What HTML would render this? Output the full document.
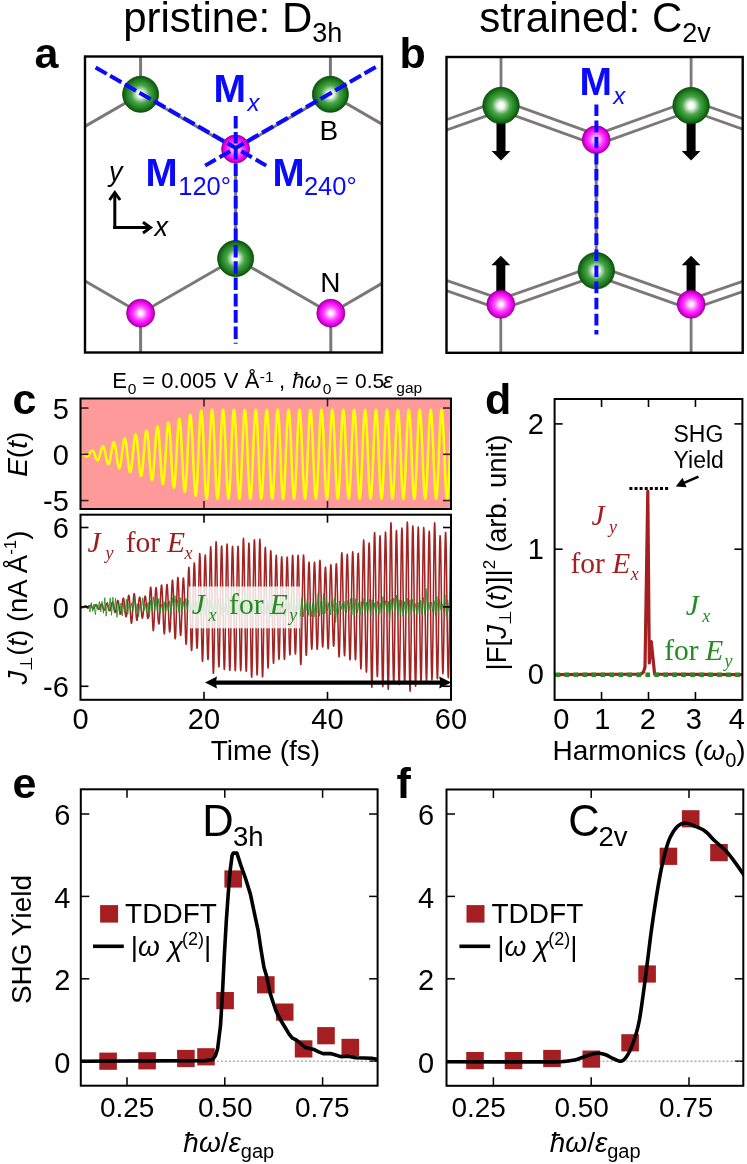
<!DOCTYPE html><html><head><meta charset="utf-8"><style>html,body{margin:0;padding:0;background:#fff;}svg{display:block;will-change:transform;}</style></head><body><svg width="747" height="1164" viewBox="0 0 747 1164">
<defs>
<radialGradient id="gG" cx="0.5" cy="0.5" r="0.5" fx="0.5" fy="0.5">
<stop offset="0" stop-color="#ffffff"/><stop offset="0.18" stop-color="#f0f8f0"/><stop offset="0.5" stop-color="#4aa64a"/><stop offset="0.8" stop-color="#1e7e1e"/><stop offset="1" stop-color="#0b520b"/></radialGradient>
<radialGradient id="gM" cx="0.5" cy="0.5" r="0.5" fx="0.5" fy="0.5">
<stop offset="0" stop-color="#ffffff"/><stop offset="0.12" stop-color="#fff0ff"/><stop offset="0.5" stop-color="#ff44ff"/><stop offset="0.8" stop-color="#f000f0"/><stop offset="1" stop-color="#a800a8"/></radialGradient>
</defs>
<rect width="747" height="1164" fill="#fff"/>
<text x="123.2" y="32.1" font-size="42" font-family="Liberation Sans, sans-serif">pristine: D<tspan font-size="27" dy="10">3h</tspan></text>
<text x="479.2" y="32.3" font-size="42" font-family="Liberation Sans, sans-serif">strained: C<tspan font-size="27" dy="10">2v</tspan></text>
<text x="34.6" y="67.8" font-size="43" fill="#000" font-family="Liberation Sans, sans-serif" font-weight="bold" font-style="normal" text-anchor="start" >a</text>
<text x="399.5" y="67.8" font-size="43" fill="#000" font-family="Liberation Sans, sans-serif" font-weight="bold" font-style="normal" text-anchor="start" >b</text>
<text x="12.5" y="414.2" font-size="43" fill="#000" font-family="Liberation Sans, sans-serif" font-weight="bold" font-style="normal" text-anchor="start" >c</text>
<text x="485" y="414.2" font-size="43" fill="#000" font-family="Liberation Sans, sans-serif" font-weight="bold" font-style="normal" text-anchor="start" >d</text>
<text x="12.4" y="798.3" font-size="43" fill="#000" font-family="Liberation Sans, sans-serif" font-weight="bold" font-style="normal" text-anchor="start" >e</text>
<text x="396.5" y="797.6" font-size="43" fill="#000" font-family="Liberation Sans, sans-serif" font-weight="bold" font-style="normal" text-anchor="start" >f</text>
<line x1="140.6" y1="56.5" x2="140.6" y2="94.3" stroke="#7d7878" stroke-width="3" />
<line x1="330.4" y1="56.5" x2="330.4" y2="94.3" stroke="#7d7878" stroke-width="3" />
<line x1="140.6" y1="94.3" x2="235.6" y2="149" stroke="#7d7878" stroke-width="3" />
<line x1="330.4" y1="94.3" x2="235.6" y2="149" stroke="#7d7878" stroke-width="3" />
<line x1="140.6" y1="94.3" x2="85" y2="126.4" stroke="#7d7878" stroke-width="3" />
<line x1="330.4" y1="94.3" x2="382" y2="124.1" stroke="#7d7878" stroke-width="3" />
<line x1="235.6" y1="149" x2="235.6" y2="258.5" stroke="#7d7878" stroke-width="3" />
<line x1="235.6" y1="258.5" x2="140.6" y2="313.2" stroke="#7d7878" stroke-width="3" />
<line x1="235.6" y1="258.5" x2="330.8" y2="313.2" stroke="#7d7878" stroke-width="3" />
<line x1="140.6" y1="313.2" x2="85" y2="281" stroke="#7d7878" stroke-width="3" />
<line x1="330.8" y1="313.2" x2="382" y2="283.4" stroke="#7d7878" stroke-width="3" />
<line x1="140.6" y1="313.2" x2="140.6" y2="352.5" stroke="#7d7878" stroke-width="3" />
<line x1="330.8" y1="313.2" x2="330.8" y2="352.5" stroke="#7d7878" stroke-width="3" />
<circle cx="140.6" cy="94.3" r="18" fill="url(#gG)" stroke="#0b4a0b" stroke-width="0.8"/>
<circle cx="330.4" cy="94.3" r="18" fill="url(#gG)" stroke="#0b4a0b" stroke-width="0.8"/>
<circle cx="235.6" cy="258.5" r="18" fill="url(#gG)" stroke="#0b4a0b" stroke-width="0.8"/>
<circle cx="235.6" cy="149" r="14" fill="url(#gM)" stroke="#8a008a" stroke-width="0.8"/>
<circle cx="140.6" cy="313.2" r="14" fill="url(#gM)" stroke="#8a008a" stroke-width="0.8"/>
<circle cx="330.8" cy="313.2" r="14" fill="url(#gM)" stroke="#8a008a" stroke-width="0.8"/>
<rect x="85" y="56.5" width="297" height="296.0" fill="none" stroke="#000" stroke-width="2.4"/>
<line x1="235.7" y1="147.9" x2="235.7" y2="343.7" stroke="#0a0aff" stroke-width="4" stroke-dasharray="11.6 3.9 12.6 3.7 12.6 3.7 12.6 3.7 12.6 3.7 12.6 3.7 12.6 3.7 12.6 3.7 12.6 3.7 12.6 3.7 12.6 3.7 12.6 3.7 12.6 3.7 12.6 3.7 12.6 3.7"/>
<line x1="235.7" y1="147.9" x2="235.7" y2="115.6" stroke="#0a0aff" stroke-width="4" stroke-dasharray="0 4.4 11.4 3.6 12.6 3.7 12.6 3.7 12.6 3.7 12.6 3.7 12.6 3.7 12.6 3.7 12.6 3.7 12.6 3.7 12.6 3.7 12.6 3.7 12.6 3.7 12.6 3.7 12.6 3.7 12.6 3.7"/>
<line x1="235.7" y1="147.9" x2="95.6" y2="67.5" stroke="#0a0aff" stroke-width="4" stroke-dasharray="9.5 4.0 13.0 3.9 13.0 3.9 13.0 3.9 13.0 3.9 13.0 3.9 13.0 3.9 13.0 3.9 13.0 3.9 13.0 3.9 13.0 3.9 13.0 3.9 13.0 3.9 13.0 3.9 13.0 3.9"/>
<line x1="235.7" y1="147.9" x2="375.8" y2="67" stroke="#0a0aff" stroke-width="4" stroke-dasharray="9.5 4.0 13.0 3.9 13.0 3.9 13.0 3.9 13.0 3.9 13.0 3.9 13.0 3.9 13.0 3.9 13.0 3.9 13.0 3.9 13.0 3.9 13.0 3.9 13.0 3.9 13.0 3.9 13.0 3.9"/>
<line x1="235.7" y1="147.9" x2="266.9" y2="166" stroke="#0a0aff" stroke-width="4" stroke-dasharray="0 6.5 12.2 4.4 12.2 10"/>
<line x1="235.7" y1="147.9" x2="204.5" y2="166" stroke="#0a0aff" stroke-width="4" stroke-dasharray="0 6.5 12.2 4.4 12.2 10"/>
<text x="213.59" y="101.6" font-size="39" fill="#0a0aff" font-family="Liberation Sans, sans-serif" font-weight="bold" font-style="normal">M</text>
<text x="247.56" y="110.9" font-size="24" fill="#0a0aff" font-family="Liberation Sans, sans-serif" font-weight="normal" font-style="italic">x</text>
<text x="145.42" y="186.1" font-size="38.5" fill="#0a0aff" font-family="Liberation Sans, sans-serif" font-weight="bold" font-style="normal">M</text>
<text x="178.26" y="194.8" font-size="25.5" fill="#0a0aff" font-family="Liberation Sans, sans-serif" font-weight="normal" font-style="normal">120°</text>
<text x="272.42" y="186.1" font-size="38.5" fill="#0a0aff" font-family="Liberation Sans, sans-serif" font-weight="bold" font-style="normal">M</text>
<text x="303.92" y="194.8" font-size="25.5" fill="#0a0aff" font-family="Liberation Sans, sans-serif" font-weight="normal" font-style="normal">240°</text>
<text x="319.5" y="140.4" font-size="28" fill="#000" font-family="Liberation Sans, sans-serif" font-weight="normal" font-style="normal">B</text>
<text x="320.3" y="292.4" font-size="28" fill="#000" font-family="Liberation Sans, sans-serif" font-weight="normal" font-style="normal">N</text>
<text x="109" y="181.2" font-size="27" fill="#000" font-family="Liberation Sans, sans-serif" font-weight="normal" font-style="italic" text-anchor="start" >y</text>
<text x="154.5" y="235.7" font-size="27" fill="#000" font-family="Liberation Sans, sans-serif" font-weight="normal" font-style="italic" text-anchor="start" >x</text>
<path d="M114.8,229 L114.8,194" stroke="#000" stroke-width="3" fill="none"/>
<path d="M109.5,200 L114.8,192.5 L120.1,200" stroke="#000" stroke-width="3" fill="none" stroke-linejoin="miter"/>
<path d="M113.3,227.6 L149,227.6" stroke="#000" stroke-width="3" fill="none"/>
<path d="M143,222.3 L150.5,227.6 L143,232.9" stroke="#000" stroke-width="3" fill="none"/>
<clipPath id="cb"><rect x="446.5" y="57" width="296.20000000000005" height="295.8"/></clipPath>
<g clip-path="url(#cb)">
<line x1="499.34" y1="110.11" x2="594.54" y2="144.31" stroke="#7d7878" stroke-width="2.8" />
<line x1="502.66" y1="100.89" x2="597.86" y2="135.09" stroke="#7d7878" stroke-width="2.8" />
<line x1="597.86" y1="144.31" x2="692.76" y2="110.21" stroke="#7d7878" stroke-width="2.8" />
<line x1="594.54" y1="135.09" x2="689.44" y2="100.99" stroke="#7d7878" stroke-width="2.8" />
<line x1="499.36" y1="100.88" x2="434.86" y2="123.83" stroke="#7d7878" stroke-width="2.8" />
<line x1="502.64" y1="110.12" x2="438.14" y2="133.06" stroke="#7d7878" stroke-width="2.8" />
<line x1="689.46" y1="110.22" x2="751.06" y2="132.13" stroke="#7d7878" stroke-width="2.8" />
<line x1="692.74" y1="100.98" x2="754.34" y2="122.89" stroke="#7d7878" stroke-width="2.8" />
<line x1="502.43" y1="308.92" x2="597.93" y2="275.32" stroke="#7d7878" stroke-width="2.8" />
<line x1="499.17" y1="299.68" x2="594.67" y2="266.08" stroke="#7d7878" stroke-width="2.8" />
<line x1="594.66" y1="275.32" x2="689.46" y2="308.92" stroke="#7d7878" stroke-width="2.8" />
<line x1="597.94" y1="266.08" x2="692.74" y2="299.68" stroke="#7d7878" stroke-width="2.8" />
<line x1="502.4" y1="299.67" x2="438.1" y2="277.48" stroke="#7d7878" stroke-width="2.8" />
<line x1="499.2" y1="308.93" x2="434.9" y2="286.75" stroke="#7d7878" stroke-width="2.8" />
<line x1="692.7" y1="308.93" x2="754.3" y2="287.68" stroke="#7d7878" stroke-width="2.8" />
<line x1="689.5" y1="299.67" x2="751.1" y2="278.42" stroke="#7d7878" stroke-width="2.8" />
</g>
<line x1="501" y1="57" x2="501" y2="105.5" stroke="#7d7878" stroke-width="2.8" />
<line x1="691.1" y1="57" x2="691.1" y2="105.6" stroke="#7d7878" stroke-width="2.8" />
<line x1="596.2" y1="139.7" x2="596.3" y2="270.7" stroke="#7d7878" stroke-width="2.8" />
<line x1="500.8" y1="304.3" x2="500.8" y2="352.8" stroke="#7d7878" stroke-width="2.8" />
<line x1="691.1" y1="304.3" x2="691.1" y2="352.8" stroke="#7d7878" stroke-width="2.8" />
<path d="M496.5,118 L505.5,118 L505.5,151 L510.4,151 L501,160.5 L491.6,151 L496.5,151 Z" fill="#000"/>
<path d="M686.6,118 L695.6,118 L695.6,151 L700.5,151 L691.1,160.5 L681.7,151 L686.6,151 Z" fill="#000"/>
<path d="M496.3,295 L505.3,295 L505.3,265.3 L510.2,265.3 L500.8,255.8 L491.4,265.3 L496.3,265.3 Z" fill="#000"/>
<path d="M686.6,295 L695.6,295 L695.6,265.3 L700.5,265.3 L691.1,255.8 L681.7,265.3 L686.6,265.3 Z" fill="#000"/>
<circle cx="501" cy="105.5" r="18.2" fill="url(#gG)" stroke="#0b4a0b" stroke-width="0.8"/>
<circle cx="691.1" cy="105.6" r="18.2" fill="url(#gG)" stroke="#0b4a0b" stroke-width="0.8"/>
<circle cx="596.3" cy="270.7" r="18.2" fill="url(#gG)" stroke="#0b4a0b" stroke-width="0.8"/>
<circle cx="596.2" cy="139.7" r="13.9" fill="url(#gM)" stroke="#8a008a" stroke-width="0.8"/>
<circle cx="500.8" cy="304.3" r="13.9" fill="url(#gM)" stroke="#8a008a" stroke-width="0.8"/>
<circle cx="691.1" cy="304.3" r="13.9" fill="url(#gM)" stroke="#8a008a" stroke-width="0.8"/>
<rect x="446.5" y="57" width="296.2" height="295.8" fill="none" stroke="#000" stroke-width="2.4"/>
<line x1="596.4" y1="104.5" x2="596.4" y2="334.5" stroke="#0a0aff" stroke-width="4" stroke-dasharray="11.6 4.5"/>
<text x="579.39" y="94.7" font-size="39" fill="#0a0aff" font-family="Liberation Sans, sans-serif" font-weight="bold" font-style="normal">M</text>
<text x="613.36" y="103.9" font-size="24" fill="#0a0aff" font-family="Liberation Sans, sans-serif" font-weight="normal" font-style="italic">x</text>
<text x="112.2" y="388.2" font-size="22" fill="#000" font-family="Liberation Sans, sans-serif" font-weight="normal" font-style="normal">E</text>
<text x="127.79" y="393.7" font-size="15.5" fill="#000" font-family="Liberation Sans, sans-serif" font-weight="normal" font-style="normal">0</text>
<text x="142.33" y="388.2" font-size="22" fill="#000" font-family="Liberation Sans, sans-serif" font-weight="normal" font-style="normal">=</text>
<text x="161.34" y="388.2" font-size="22" fill="#000" font-family="Liberation Sans, sans-serif" font-weight="normal" font-style="normal">0.005</text>
<text x="223.7" y="388.2" font-size="22" fill="#000" font-family="Liberation Sans, sans-serif" font-weight="normal" font-style="normal">V</text>
<text x="244.76" y="388.2" font-size="22" fill="#000" font-family="Liberation Sans, sans-serif" font-weight="normal" font-style="normal">Å</text>
<text x="259.81" y="382.1" font-size="15.5" fill="#000" font-family="Liberation Sans, sans-serif" font-weight="normal" font-style="normal">-1</text>
<text x="279.02" y="388.2" font-size="22" fill="#000" font-family="Liberation Sans, sans-serif" font-weight="normal" font-style="normal">,</text>
<text x="292.13" y="388.2" font-size="22" fill="#000" font-family="Liberation Sans, sans-serif" font-weight="normal" font-style="italic">ħω</text>
<text x="322.79" y="393.9" font-size="15.5" fill="#000" font-family="Liberation Sans, sans-serif" font-weight="normal" font-style="normal">0</text>
<text x="335.43" y="388.2" font-size="22" fill="#000" font-family="Liberation Sans, sans-serif" font-weight="normal" font-style="normal">=</text>
<text x="354.98" y="388.2" font-size="21" fill="#000" font-family="Liberation Sans, sans-serif" font-weight="normal" font-style="normal">0.5</text>
<text x="382.82" y="388.2" font-size="23" fill="#000" font-family="Liberation Sans, sans-serif" font-weight="normal" font-style="italic">ε</text>
<text x="396.35" y="393.3" font-size="15.5" fill="#000" font-family="Liberation Sans, sans-serif" font-weight="normal" font-style="normal">gap</text>
<rect x="80.5" y="398.5" width="370.5" height="110.5" fill="#ff9a9a"/>
<clipPath id="ct"><rect x="80.5" y="398.5" width="370.5" height="110.5"/></clipPath>
<g clip-path="url(#ct)">
<path d="M80.5,454.3 L80.75,454.21 L81,454.12 L81.25,454.03 L81.5,453.96 L81.75,453.9 L82,453.86 L82.25,453.84 L82.5,453.85 L82.75,453.89 L83,453.96 L83.25,454.06 L83.5,454.19 L83.75,454.35 L84,454.54 L84.25,454.74 L84.5,454.96 L84.75,455.19 L85,455.42 L85.25,455.65 L85.5,455.86 L85.75,456.06 L86,456.23 L86.25,456.36 L86.5,456.46 L86.75,456.51 L87,456.51 L87.25,456.45 L87.5,456.34 L87.75,456.17 L88,455.94 L88.25,455.66 L88.5,455.33 L88.75,454.96 L89,454.54 L89.25,454.1 L89.5,453.63 L89.75,453.15 L90,452.67 L90.25,452.2 L90.5,451.76 L90.75,451.35 L91,450.98 L91.25,450.67 L91.5,450.43 L91.75,450.26 L92,450.17 L92.25,450.17 L92.5,450.26 L92.75,450.44 L93,450.71 L93.25,451.08 L93.5,451.53 L93.75,452.05 L94,452.65 L94.25,453.3 L94.5,454 L94.75,454.73 L95,455.48 L95.25,456.23 L95.5,456.97 L95.75,457.67 L96,458.32 L96.25,458.91 L96.5,459.41 L96.75,459.83 L97,460.14 L97.25,460.33 L97.5,460.4 L97.75,460.34 L98,460.15 L98.25,459.83 L98.5,459.38 L98.75,458.82 L99,458.14 L99.25,457.36 L99.5,456.49 L99.75,455.56 L100,454.57 L100.25,453.55 L100.5,452.53 L100.75,451.51 L101,450.53 L101.25,449.6 L101.5,448.75 L101.75,448 L102,447.36 L102.25,446.85 L102.5,446.49 L102.75,446.29 L103,446.25 L103.25,446.38 L103.5,446.67 L103.75,447.14 L104,447.77 L104.25,448.55 L104.5,449.46 L104.75,450.5 L105,451.64 L105.25,452.86 L105.5,454.13 L105.75,455.43 L106,456.74 L106.25,458.02 L106.5,459.25 L106.75,460.39 L107,461.43 L107.25,462.34 L107.5,463.1 L107.75,463.69 L108,464.09 L108.25,464.3 L108.5,464.3 L108.75,464.09 L109,463.67 L109.25,463.04 L109.5,462.22 L109.75,461.23 L110,460.07 L110.25,458.77 L110.5,457.35 L110.75,455.85 L111,454.28 L111.25,452.7 L111.5,451.12 L111.75,449.58 L112,448.12 L112.25,446.76 L112.5,445.53 L112.75,444.48 L113,443.61 L113.25,442.95 L113.5,442.51 L113.75,442.32 L114,442.37 L114.25,442.68 L114.5,443.23 L114.75,444.02 L115,445.04 L115.25,446.26 L115.5,447.67 L115.75,449.24 L116,450.94 L116.25,452.73 L116.5,454.58 L116.75,456.45 L117,458.3 L117.25,460.09 L117.5,461.79 L117.75,463.35 L118,464.75 L118.25,465.94 L118.5,466.91 L118.75,467.63 L119,468.09 L119.25,468.26 L119.5,468.14 L119.75,467.73 L120,467.04 L120.25,466.07 L120.5,464.84 L120.75,463.38 L121,461.72 L121.25,459.88 L121.5,457.89 L121.75,455.81 L122,453.68 L122.25,451.53 L122.5,449.41 L122.75,447.37 L123,445.45 L123.25,443.69 L123.5,442.13 L123.75,440.8 L124,439.74 L124.25,438.97 L124.5,438.51 L124.75,438.38 L125,438.57 L125.25,439.09 L125.5,439.94 L125.75,441.09 L126,442.53 L126.25,444.23 L126.5,446.16 L126.75,448.28 L127,450.55 L127.25,452.92 L127.5,455.35 L127.75,457.77 L128,460.16 L128.25,462.44 L128.5,464.58 L128.75,466.53 L129,468.25 L129.25,469.69 L129.5,470.83 L129.75,471.64 L130,472.09 L130.25,472.18 L130.5,471.9 L130.75,471.25 L131,470.24 L131.25,468.89 L131.5,467.23 L131.75,465.28 L132,463.08 L132.25,460.68 L132.5,458.12 L132.75,455.46 L133,452.75 L133.25,450.05 L133.5,447.41 L133.75,444.88 L134,442.53 L134.25,440.4 L134.5,438.54 L134.75,436.99 L135,435.78 L135.25,434.95 L135.5,434.51 L135.75,434.48 L136,434.85 L136.25,435.64 L136.5,436.82 L136.75,438.37 L137,440.27 L137.25,442.48 L137.5,444.95 L137.75,447.63 L138,450.48 L138.25,453.43 L138.5,456.43 L138.75,459.41 L139,462.3 L139.25,465.06 L139.5,467.62 L139.75,469.92 L140,471.92 L140.25,473.56 L140.5,474.83 L140.75,475.68 L141,476.09 L141.25,476.05 L141.5,475.56 L141.75,474.63 L142,473.27 L142.25,471.5 L142.5,469.37 L142.75,466.9 L143,464.15 L143.25,461.18 L143.5,458.03 L143.75,454.79 L144,451.51 L144.25,448.26 L144.5,445.12 L144.75,442.13 L145,439.38 L145.25,436.92 L145.5,434.79 L145.75,433.05 L146,431.75 L146.25,430.89 L146.5,430.52 L146.75,430.64 L147,431.24 L147.25,432.34 L147.5,433.89 L147.75,435.88 L148,438.26 L148.25,441 L148.5,444.03 L148.75,447.29 L149,450.73 L149.25,454.26 L149.5,457.83 L149.75,461.34 L150,464.73 L150.25,467.93 L150.5,470.88 L150.75,473.5 L151,475.74 L151.25,477.55 L151.5,478.9 L151.75,479.74 L152,480.06 L152.25,479.85 L152.5,479.11 L152.75,477.86 L153,476.1 L153.25,473.88 L153.5,471.24 L153.75,468.23 L154,464.92 L154.25,461.36 L154.5,457.63 L154.75,453.8 L155,449.96 L155.25,446.18 L155.5,442.55 L155.75,439.13 L156,436.01 L156.25,433.25 L156.5,430.9 L156.75,429.02 L157,427.65 L157.25,426.83 L157.5,426.57 L157.75,426.88 L158,427.76 L158.25,429.2 L158.5,431.16 L158.75,433.62 L159,436.52 L159.25,439.81 L159.5,443.42 L159.75,447.27 L160,451.3 L160.25,455.41 L160.5,459.53 L160.75,463.57 L161,467.44 L161.25,471.06 L161.5,474.35 L161.75,477.25 L162,479.7 L162.25,481.63 L162.5,483.01 L162.75,483.8 L163,483.99 L163.25,483.57 L163.5,482.53 L163.75,480.91 L164,478.72 L164.25,476.02 L164.5,472.85 L164.75,469.28 L165,465.37 L165.25,461.22 L165.5,456.89 L165.75,452.49 L166,448.1 L166.25,443.81 L166.5,439.71 L166.75,435.9 L167,432.44 L167.25,429.41 L167.5,426.88 L167.75,424.9 L168,423.52 L168.25,422.77 L168.5,422.67 L168.75,423.22 L169,424.42 L169.25,426.24 L169.5,428.65 L169.75,431.61 L170,435.05 L170.25,438.91 L170.5,443.12 L170.75,447.57 L171,452.19 L171.25,456.88 L171.5,461.54 L171.75,466.08 L172,470.4 L172.25,474.41 L172.5,478.03 L172.75,481.17 L173,483.77 L173.25,485.78 L173.5,487.15 L173.75,487.85 L174,487.86 L174.25,487.17 L174.5,485.8 L174.75,483.77 L175,481.12 L175.25,477.9 L175.5,474.17 L175.75,470.02 L176,465.52 L176.25,460.76 L176.5,455.84 L176.75,450.87 L177,445.94 L177.25,441.16 L177.5,436.62 L177.75,432.43 L178,428.67 L178.25,425.42 L178.5,422.75 L178.75,420.72 L179,419.37 L179.25,418.74 L179.5,418.84 L179.75,419.68 L180,421.23 L180.25,423.48 L180.5,426.37 L180.75,429.86 L181,433.87 L181.25,438.33 L181.5,443.13 L181.75,448.19 L182,453.41 L182.25,458.66 L182.5,463.85 L182.75,468.87 L183,473.62 L183.25,477.98 L183.5,481.88 L183.75,485.23 L184,487.95 L184.25,489.99 L184.5,491.31 L184.75,491.86 L185,491.64 L185.25,490.65 L185.5,488.9 L185.75,486.42 L186,483.27 L186.25,479.51 L186.5,475.2 L186.75,470.45 L187,465.34 L187.25,459.97 L187.5,454.47 L187.75,448.93 L188,443.48 L188.25,438.23 L188.5,433.28 L188.75,428.75 L189,424.72 L189.25,421.29 L189.5,418.53 L189.75,416.49 L190,415.22 L190.25,414.76 L190.5,415.11 L190.75,416.27 L191,418.22 L191.25,420.93 L191.5,424.35 L191.75,428.39 L192,432.99 L192.25,438.05 L192.5,443.47 L192.75,449.14 L193,454.94 L193.25,460.75 L193.5,466.46 L193.75,471.94 L194,477.08 L194.25,481.77 L194.5,485.91 L194.75,489.42 L195,492.22 L195.25,494.24 L195.5,495.45 L195.75,495.81 L196,495.32 L196.25,493.98 L196.5,491.81 L196.75,488.85 L197,485.17 L197.25,480.84 L197.5,475.94 L197.75,470.57 L198,464.84 L198.25,458.86 L198.5,452.77 L198.75,446.69 L199,440.73 L199.25,435.03 L199.5,429.71 L199.75,424.87 L200,420.62 L200.25,417.05 L200.5,414.23 L200.75,412.23 L201,411.09 L201.25,410.84 L201.5,411.48 L201.75,413.02 L202,415.41 L202.25,418.62 L202.5,422.57 L202.75,427.2 L203,432.41 L203.25,438.1 L203.5,444.14 L203.75,450.41 L204,456.79 L204.25,463.13 L204.5,469.29 L204.75,475.13 L205,480.55 L205.25,485.43 L205.5,489.66 L205.75,493.16 L206,495.87 L206.25,497.71 L206.5,498.67 L206.75,498.7 L207,497.82 L207.25,496.05 L207.5,493.41 L207.75,489.97 L208,485.79 L208.25,480.96 L208.5,475.58 L208.75,469.77 L209,463.63 L209.25,457.3 L209.5,450.91 L209.75,444.59 L210,438.47 L210.25,432.68 L210.5,427.33 L210.75,422.54 L211,418.4 L211.25,415.01 L211.5,412.42 L211.75,410.7 L212,409.87 L212.25,409.97 L212.5,410.97 L212.75,412.87 L213,415.62 L213.25,419.17 L213.5,423.45 L213.75,428.36 L214,433.81 L214.25,439.68 L214.5,445.85 L214.75,452.19 L215,458.58 L215.25,464.88 L215.5,470.96 L215.75,476.7 L216,481.97 L216.25,486.68 L216.5,490.72 L216.75,494 L217,496.47 L217.25,498.07 L217.5,498.77 L217.75,498.55 L218,497.42 L218.25,495.39 L218.5,492.53 L218.75,488.87 L219,484.5 L219.25,479.51 L219.5,473.99 L219.75,468.08 L220,461.87 L220.25,455.51 L220.5,449.13 L220.75,442.85 L221,436.81 L221.25,431.13 L221.5,425.93 L221.75,421.31 L222,417.38 L222.25,414.2 L222.5,411.85 L222.75,410.38 L223,409.81 L223.25,410.16 L223.5,411.41 L223.75,413.56 L224,416.54 L224.25,420.3 L224.5,424.77 L224.75,429.84 L225,435.41 L225.25,441.38 L225.5,447.61 L225.75,453.98 L226,460.36 L226.25,466.61 L226.5,472.61 L226.75,478.23 L227,483.35 L227.25,487.88 L227.5,491.72 L227.75,494.78 L228,497.01 L228.25,498.36 L228.5,498.8 L228.75,498.32 L229,496.94 L229.25,494.67 L229.5,491.58 L229.75,487.71 L230,483.16 L230.25,478.01 L230.5,472.37 L230.75,466.36 L231,460.1 L231.25,453.72 L231.5,447.36 L231.75,441.13 L232,435.18 L232.25,429.62 L232.5,424.57 L232.75,420.14 L233,416.41 L233.25,413.46 L233.5,411.35 L233.75,410.12 L234,409.81 L234.25,410.42 L234.5,411.93 L234.75,414.31 L235,417.52 L235.25,421.49 L235.5,426.13 L235.75,431.35 L236,437.05 L236.25,443.1 L236.5,449.39 L236.75,455.77 L237,462.13 L237.25,468.32 L237.5,474.22 L237.75,479.72 L238,484.69 L238.25,489.03 L238.5,492.66 L238.75,495.49 L239,497.48 L239.25,498.58 L239.5,498.76 L239.75,498.03 L240,496.39 L240.25,493.89 L240.5,490.57 L240.75,486.5 L241,481.77 L241.25,476.48 L241.5,470.72 L241.75,464.63 L242,458.32 L242.25,451.93 L242.5,445.59 L242.75,439.43 L243,433.58 L243.25,428.15 L243.5,423.27 L243.75,419.02 L244,415.5 L244.25,412.78 L244.5,410.91 L244.75,409.94 L245,409.89 L245.25,410.75 L245.5,412.51 L245.75,415.13 L246,418.56 L246.25,422.72 L246.5,427.54 L246.75,432.9 L247,438.71 L247.25,444.84 L247.5,451.17 L247.75,457.56 L248,463.88 L248.25,470.01 L248.5,475.81 L248.75,481.17 L249,485.97 L249.25,490.12 L249.5,493.53 L249.75,496.14 L250,497.88 L250.25,498.72 L250.5,498.65 L250.75,497.66 L251,495.78 L251.25,493.04 L251.5,489.5 L251.75,485.24 L252,480.34 L252.25,474.91 L252.5,469.04 L252.75,462.88 L253,456.54 L253.25,450.15 L253.5,443.85 L253.75,437.76 L254,432.01 L254.25,426.73 L254.5,422.01 L254.75,417.96 L255,414.65 L255.25,412.17 L255.5,410.55 L255.75,409.84 L256,410.04 L256.25,411.15 L256.5,413.16 L256.75,416.01 L257,419.65 L257.25,424.01 L257.5,428.99 L257.75,434.49 L258,440.4 L258.25,446.6 L258.5,452.96 L258.75,459.34 L259,465.62 L259.25,471.67 L259.5,477.36 L259.75,482.57 L260,487.2 L260.25,491.15 L260.5,494.35 L260.75,496.71 L261,498.2 L261.25,498.79 L261.5,498.46 L261.75,497.22 L262,495.09 L262.25,492.13 L262.5,488.38 L262.75,483.93 L263,478.87 L263.25,473.3 L263.5,467.34 L263.75,461.12 L264,454.75 L264.25,448.37 L264.5,442.11 L264.75,436.11 L265,430.48 L265.25,425.34 L265.5,420.8 L265.75,416.95 L266,413.87 L266.25,411.63 L266.5,410.26 L266.75,409.8 L267,410.26 L267.25,411.63 L267.5,413.87 L267.75,416.95 L268,420.8 L268.25,425.34 L268.5,430.48 L268.75,436.11 L269,442.11 L269.25,448.37 L269.5,454.75 L269.75,461.12 L270,467.34 L270.25,473.3 L270.5,478.87 L270.75,483.93 L271,488.38 L271.25,492.13 L271.5,495.09 L271.75,497.22 L272,498.46 L272.25,498.79 L272.5,498.2 L272.75,496.71 L273,494.35 L273.25,491.15 L273.5,487.2 L273.75,482.57 L274,477.36 L274.25,471.67 L274.5,465.62 L274.75,459.34 L275,452.96 L275.25,446.6 L275.5,440.4 L275.75,434.49 L276,428.99 L276.25,424.01 L276.5,419.65 L276.75,416.01 L277,413.16 L277.25,411.15 L277.5,410.04 L277.75,409.84 L278,410.55 L278.25,412.17 L278.5,414.65 L278.75,417.96 L279,422.01 L279.25,426.73 L279.5,432.01 L279.75,437.76 L280,443.85 L280.25,450.15 L280.5,456.54 L280.75,462.88 L281,469.04 L281.25,474.91 L281.5,480.34 L281.75,485.24 L282,489.5 L282.25,493.04 L282.5,495.78 L282.75,497.66 L283,498.65 L283.25,498.72 L283.5,497.88 L283.75,496.14 L284,493.53 L284.25,490.12 L284.5,485.97 L284.75,481.17 L285,475.81 L285.25,470.01 L285.5,463.88 L285.75,457.56 L286,451.17 L286.25,444.84 L286.5,438.71 L286.75,432.9 L287,427.54 L287.25,422.72 L287.5,418.56 L287.75,415.13 L288,412.51 L288.25,410.75 L288.5,409.89 L288.75,409.94 L289,410.91 L289.25,412.78 L289.5,415.5 L289.75,419.02 L290,423.27 L290.25,428.15 L290.5,433.58 L290.75,439.43 L291,445.59 L291.25,451.93 L291.5,458.32 L291.75,464.63 L292,470.72 L292.25,476.48 L292.5,481.77 L292.75,486.5 L293,490.57 L293.25,493.89 L293.5,496.39 L293.75,498.03 L294,498.76 L294.25,498.58 L294.5,497.48 L294.75,495.49 L295,492.66 L295.25,489.03 L295.5,484.69 L295.75,479.72 L296,474.22 L296.25,468.32 L296.5,462.13 L296.75,455.77 L297,449.39 L297.25,443.1 L297.5,437.05 L297.75,431.35 L298,426.13 L298.25,421.49 L298.5,417.52 L298.75,414.31 L299,411.93 L299.25,410.42 L299.5,409.81 L299.75,410.12 L300,411.35 L300.25,413.46 L300.5,416.41 L300.75,420.14 L301,424.57 L301.25,429.62 L301.5,435.18 L301.75,441.13 L302,447.36 L302.25,453.72 L302.5,460.1 L302.75,466.36 L303,472.37 L303.25,478.01 L303.5,483.16 L303.75,487.71 L304,491.58 L304.25,494.67 L304.5,496.94 L304.75,498.32 L305,498.8 L305.25,498.36 L305.5,497.01 L305.75,494.78 L306,491.72 L306.25,487.88 L306.5,483.35 L306.75,478.23 L307,472.61 L307.25,466.61 L307.5,460.36 L307.75,453.98 L308,447.61 L308.25,441.38 L308.5,435.41 L308.75,429.84 L309,424.77 L309.25,420.3 L309.5,416.54 L309.75,413.56 L310,411.41 L310.25,410.16 L310.5,409.81 L310.75,410.38 L311,411.85 L311.25,414.2 L311.5,417.38 L311.75,421.31 L312,425.93 L312.25,431.13 L312.5,436.81 L312.75,442.85 L313,449.13 L313.25,455.51 L313.5,461.87 L313.75,468.08 L314,473.99 L314.25,479.51 L314.5,484.5 L314.75,488.87 L315,492.53 L315.25,495.39 L315.5,497.42 L315.75,498.55 L316,498.77 L316.25,498.07 L316.5,496.47 L316.75,494 L317,490.72 L317.25,486.68 L317.5,481.97 L317.75,476.7 L318,470.96 L318.25,464.88 L318.5,458.58 L318.75,452.19 L319,445.85 L319.25,439.68 L319.5,433.81 L319.75,428.36 L320,423.45 L320.25,419.17 L320.5,415.62 L320.75,412.87 L321,410.97 L321.25,409.97 L321.5,409.87 L321.75,410.7 L322,412.42 L322.25,415.01 L322.5,418.4 L322.75,422.54 L323,427.33 L323.25,432.68 L323.5,438.47 L323.75,444.59 L324,450.91 L324.25,457.3 L324.5,463.63 L324.75,469.77 L325,475.58 L325.25,480.96 L325.5,485.79 L325.75,489.97 L326,493.41 L326.25,496.05 L326.5,497.82 L326.75,498.7 L327,498.67 L327.25,497.71 L327.5,495.87 L327.75,493.16 L328,489.66 L328.25,485.43 L328.5,480.55 L328.75,475.13 L329,469.29 L329.25,463.13 L329.5,456.79 L329.75,450.4 L330,444.1 L330.25,438 L330.5,432.23 L330.75,426.93 L331,422.18 L331.25,418.1 L331.5,414.77 L331.75,412.25 L332,410.6 L332.25,409.85 L332.5,410.01 L332.75,411.09 L333,413.06 L333.25,415.88 L333.5,419.49 L333.75,423.82 L334,428.78 L334.25,434.26 L334.5,440.16 L334.75,446.35 L335,452.7 L335.25,459.09 L335.5,465.37 L335.75,471.43 L336,477.14 L336.25,482.37 L336.5,487.03 L336.75,491.01 L337,494.23 L337.25,496.63 L337.5,498.16 L337.75,498.79 L338,498.49 L338.25,497.29 L338.5,495.2 L338.75,492.26 L339,488.54 L339.25,484.12 L339.5,479.08 L339.75,473.53 L340,467.59 L340.25,461.37 L340.5,455 L340.75,448.62 L341,442.36 L341.25,436.34 L341.5,430.7 L341.75,425.54 L342,420.97 L342.25,417.09 L342.5,413.98 L342.75,411.7 L343,410.3 L343.25,409.8 L343.5,410.22 L343.75,411.55 L344,413.77 L344.25,416.81 L344.5,420.63 L344.75,425.15 L345,430.27 L345.25,435.88 L345.5,441.87 L345.75,448.12 L346,454.49 L346.25,460.86 L346.5,467.1 L346.75,473.07 L347,478.66 L347.25,483.74 L347.5,488.21 L347.75,491.99 L348,494.99 L348.25,497.15 L348.5,498.43 L348.75,498.8 L349,498.25 L349.25,496.79 L349.5,494.46 L349.75,491.3 L350,487.37 L350.25,482.77 L350.5,477.58 L350.75,471.9 L351,465.87 L351.25,459.6 L351.5,453.21 L351.75,446.85 L352,440.65 L352.25,434.72 L352.5,429.2 L352.75,424.2 L353,419.81 L353.25,416.14 L353.5,413.25 L353.75,411.22 L354,410.07 L354.25,409.83 L354.5,410.5 L354.75,412.09 L355,414.54 L355.25,417.81 L355.5,421.83 L355.75,426.53 L356,431.79 L356.25,437.52 L356.5,443.6 L356.75,449.89 L357,456.28 L357.25,462.63 L357.5,468.8 L357.75,474.68 L358,480.13 L358.25,485.06 L358.5,489.35 L358.75,492.91 L359,495.68 L359.25,497.6 L359.5,498.62 L359.75,498.73 L360,497.93 L360.25,496.22 L360.5,493.65 L360.75,490.27 L361,486.15 L361.25,481.37 L361.5,476.03 L361.75,470.25 L362,464.13 L362.25,457.81 L362.5,451.42 L362.75,445.09 L363,438.95 L363.25,433.13 L363.5,427.74 L363.75,422.9 L364,418.71 L364.25,415.25 L364.5,412.6 L364.75,410.8 L365,409.91 L365.25,409.92 L365.5,410.86 L365.75,412.69 L366,415.37 L366.25,418.86 L366.5,423.08 L366.75,427.95 L367,433.35 L367.25,439.19 L367.5,445.34 L367.75,451.68 L368,458.07 L368.25,464.38 L368.5,470.48 L368.75,476.25 L369,481.57 L369.25,486.33 L369.5,490.42 L369.75,493.77 L370,496.31 L370.25,497.98 L370.5,498.75 L370.75,498.6 L371,497.54 L371.25,495.59 L371.5,492.78 L371.75,489.19 L372,484.87 L372.25,479.93 L372.5,474.45 L372.75,468.56 L373,462.38 L373.25,456.03 L373.5,449.64 L373.75,443.35 L374,437.29 L374.25,431.57 L374.5,426.33 L374.75,421.66 L375,417.66 L375.25,414.42 L375.5,412.01 L375.75,410.46 L376,409.82 L376.25,410.09 L376.5,411.28 L376.75,413.35 L377,416.27 L377.25,419.97 L377.5,424.38 L377.75,429.41 L378,434.95 L378.25,440.89 L378.5,447.11 L378.75,453.47 L379,459.85 L379.25,466.12 L379.5,472.14 L379.75,477.79 L380,482.96 L380.25,487.54 L380.5,491.44 L380.75,494.57 L381,496.86 L381.25,498.28 L381.5,498.8 L381.75,498.39 L382,497.08 L382.25,494.89 L382.5,491.85 L382.75,488.05 L383,483.55 L383.25,478.44 L383.5,472.84 L383.75,466.85 L384,460.61 L384.25,454.24 L384.5,447.86 L384.75,441.62 L385,435.64 L385.25,430.05 L385.5,424.96 L385.75,420.47 L386,416.68 L386.25,413.66 L386.5,411.48 L386.75,410.19 L387,409.8 L387.25,410.33 L387.5,411.77 L387.75,414.09 L388,417.23 L388.25,421.14 L388.5,425.73 L388.75,430.92 L389,436.58 L389.25,442.61 L389.5,448.88 L389.75,455.26 L390,461.62 L390.25,467.83 L390.5,473.76 L390.75,479.29 L391,484.31 L391.25,488.71 L391.5,492.39 L391.75,495.3 L392,497.35 L392.25,498.52 L392.5,498.78 L392.75,498.12 L393,496.55 L393.25,494.12 L393.5,490.86 L393.75,486.85 L394,482.17 L394.25,476.92 L394.5,471.2 L394.75,465.13 L395,458.83 L395.25,452.45 L395.5,446.1 L395.75,439.92 L396,434.03 L396.25,428.57 L396.5,423.63 L396.75,419.33 L397,415.75 L397.25,412.96 L397.5,411.03 L397.75,409.99 L398,409.86 L398.25,410.65 L398.5,412.34 L398.75,414.89 L399,418.25 L399.25,422.36 L399.5,427.13 L399.75,432.46 L400,438.24 L400.25,444.34 L400.5,450.66 L400.75,457.05 L401,463.38 L401.25,469.53 L401.5,475.36 L401.75,480.76 L402,485.61 L402.25,489.81 L402.5,493.29 L402.75,495.96 L403,497.77 L403.25,498.69 L403.5,498.69 L403.75,497.77 L404,495.96 L404.25,493.29 L404.5,489.81 L404.75,485.61 L405,480.76 L405.25,475.36 L405.5,469.53 L405.75,463.38 L406,457.05 L406.25,450.66 L406.5,444.34 L406.75,438.24 L407,432.46 L407.25,427.13 L407.5,422.36 L407.75,418.25 L408,414.89 L408.25,412.34 L408.5,410.65 L408.75,409.86 L409,409.99 L409.25,411.03 L409.5,412.96 L409.75,415.75 L410,419.33 L410.25,423.63 L410.5,428.57 L410.75,434.03 L411,439.92 L411.25,446.1 L411.5,452.45 L411.75,458.83 L412,465.13 L412.25,471.2 L412.5,476.92 L412.75,482.17 L413,486.85 L413.25,490.86 L413.5,494.12 L413.75,496.55 L414,498.12 L414.25,498.78 L414.5,498.52 L414.75,497.35 L415,495.3 L415.25,492.39 L415.5,488.71 L415.75,484.31 L416,479.29 L416.25,473.76 L416.5,467.83 L416.75,461.62 L417,455.26 L417.25,448.88 L417.5,442.61 L417.75,436.58 L418,430.92 L418.25,425.73 L418.5,421.14 L418.75,417.23 L419,414.09 L419.25,411.77 L419.5,410.33 L419.75,409.8 L420,410.19 L420.25,411.48 L420.5,413.66 L420.75,416.68 L421,420.47 L421.25,424.96 L421.5,430.05 L421.75,435.64 L422,441.62 L422.25,447.86 L422.5,454.24 L422.75,460.61 L423,466.85 L423.25,472.84 L423.5,478.44 L423.75,483.55 L424,488.05 L424.25,491.85 L424.5,494.89 L424.75,497.08 L425,498.39 L425.25,498.8 L425.5,498.28 L425.75,496.86 L426,494.57 L426.25,491.44 L426.5,487.54 L426.75,482.96 L427,477.79 L427.25,472.14 L427.5,466.12 L427.75,459.85 L428,453.47 L428.25,447.11 L428.5,440.89 L428.75,434.95 L429,429.41 L429.25,424.38 L429.5,419.97 L429.75,416.27 L430,413.35 L430.25,411.28 L430.5,410.09 L430.75,409.82 L431,410.46 L431.25,412.01 L431.5,414.42 L431.75,417.66 L432,421.66 L432.25,426.33 L432.5,431.57 L432.75,437.29 L433,443.35 L433.25,449.64 L433.5,456.03 L433.75,462.38 L434,468.56 L434.25,474.45 L434.5,479.93 L434.75,484.87 L435,489.19 L435.25,492.78 L435.5,495.59 L435.75,497.54 L436,498.6 L436.25,498.75 L436.5,497.98 L436.75,496.31 L437,493.77 L437.25,490.42 L437.5,486.33 L437.75,481.57 L438,476.25 L438.25,470.48 L438.5,464.38 L438.75,458.07 L439,451.68 L439.25,445.34 L439.5,439.19 L439.75,433.35 L440,427.95 L440.25,423.08 L440.5,418.86 L440.75,415.37 L441,412.69 L441.25,410.86 L441.5,409.92 L441.75,409.91 L442,410.8 L442.25,412.6 L442.5,415.25 L442.75,418.71 L443,422.9 L443.25,427.74 L443.5,433.13 L443.75,438.95 L444,445.09 L444.25,451.42 L444.5,457.81 L444.75,464.13 L445,470.25 L445.25,476.03 L445.5,481.37 L445.75,486.15 L446,490.27 L446.25,493.65 L446.5,496.22 L446.75,497.93 L447,498.73 L447.25,498.62 L447.5,497.6 L447.75,495.68 L448,492.91 L448.25,489.35 L448.5,485.06 L448.75,480.13 L449,474.68 L449.25,468.8 L449.5,462.63 L449.75,456.28 L450,449.89 L450.25,443.6 L450.5,437.52 L450.75,431.79 L451,426.53" fill="none" stroke="#ffff00" stroke-width="2.5" stroke-linejoin="round" />
</g>
<line x1="204" y1="398.5" x2="204" y2="406.5" stroke="#3a2020" stroke-width="1.6" />
<line x1="204" y1="509" x2="204" y2="501" stroke="#3a2020" stroke-width="1.6" />
<line x1="327.5" y1="398.5" x2="327.5" y2="406.5" stroke="#3a2020" stroke-width="1.6" />
<line x1="327.5" y1="509" x2="327.5" y2="501" stroke="#3a2020" stroke-width="1.6" />
<line x1="80.5" y1="408.05" x2="88.5" y2="408.05" stroke="#3a2020" stroke-width="1.6" />
<line x1="451" y1="408.05" x2="443" y2="408.05" stroke="#3a2020" stroke-width="1.6" />
<line x1="80.5" y1="454.3" x2="88.5" y2="454.3" stroke="#3a2020" stroke-width="1.6" />
<line x1="451" y1="454.3" x2="443" y2="454.3" stroke="#3a2020" stroke-width="1.6" />
<line x1="80.5" y1="500.55" x2="88.5" y2="500.55" stroke="#3a2020" stroke-width="1.6" />
<line x1="451" y1="500.55" x2="443" y2="500.55" stroke="#3a2020" stroke-width="1.6" />
<rect x="80.5" y="398.5" width="370.5" height="110.5" fill="none" stroke="#000" stroke-width="2"/>
<text x="68.9" y="418.85" font-size="29" fill="#000" font-family="Liberation Sans, sans-serif" font-weight="normal" font-style="normal" text-anchor="end" >5</text>
<text x="68.9" y="465.1" font-size="29" fill="#000" font-family="Liberation Sans, sans-serif" font-weight="normal" font-style="normal" text-anchor="end" >0</text>
<text x="68.9" y="511.35" font-size="29" fill="#000" font-family="Liberation Sans, sans-serif" font-weight="normal" font-style="normal" text-anchor="end" >-5</text>
<text transform="translate(26.8,454.3) rotate(-90)" x="0" y="0" font-size="28" font-family="Liberation Sans, sans-serif" text-anchor="middle"><tspan font-style="italic">E</tspan>(<tspan font-style="italic">t</tspan>)</text>
<clipPath id="cbt"><rect x="80.5" y="514.7" width="370.5" height="185.1"/></clipPath>
<g clip-path="url(#cbt)">
<path d="M80.5,606.66 L80.7,606.76 L80.9,606.87 L81.1,607 L81.3,607.13 L81.5,607.26 L81.7,607.38 L81.9,607.47 L82.1,607.55 L82.3,607.59 L82.5,607.59 L82.7,607.56 L82.9,607.48 L83.1,607.37 L83.3,607.23 L83.5,607.06 L83.7,606.88 L83.9,606.68 L84.1,606.49 L84.3,606.31 L84.5,606.16 L84.7,606.04 L84.9,605.96 L85.1,605.93 L85.3,605.95 L85.5,606.02 L85.7,606.15 L85.9,606.32 L86.1,606.53 L86.3,606.77 L86.5,607.02 L86.7,607.28 L86.9,607.53 L87.1,607.75 L87.3,607.93 L87.5,608.06 L87.7,608.14 L87.9,608.15 L88.1,608.1 L88.3,607.97 L88.5,607.79 L88.7,607.55 L88.9,607.27 L89.1,606.96 L89.3,606.64 L89.5,606.32 L89.7,606.02 L89.9,605.77 L90.1,605.56 L90.3,605.43 L90.5,605.37 L90.7,605.38 L90.9,605.49 L91.1,605.67 L91.3,605.92 L91.5,606.23 L91.7,606.58 L91.9,606.96 L92.1,607.35 L92.3,607.72 L92.5,608.06 L92.7,608.34 L92.9,608.55 L93.1,608.68 L93.3,608.72 L93.5,608.66 L93.7,608.5 L93.9,608.26 L94.1,607.94 L94.3,607.55 L94.5,607.12 L94.7,606.67 L94.9,606.23 L95.1,605.81 L95.3,605.43 L95.5,605.12 L95.7,604.9 L95.9,604.79 L96.1,604.78 L96.3,604.89 L96.5,605.1 L96.7,605.42 L96.9,605.83 L97.1,606.3 L97.3,606.82 L97.5,607.35 L97.7,607.87 L97.9,608.35 L98.1,608.77 L98.3,609.09 L98.5,609.3 L98.7,609.39 L98.9,609.35 L99.1,609.18 L99.3,608.88 L99.5,608.47 L99.7,607.97 L99.9,607.4 L100.1,606.79 L100.3,606.17 L100.5,605.58 L100.7,605.05 L100.9,604.61 L101.1,604.29 L101.3,604.09 L101.5,604.04 L101.7,604.15 L101.9,604.4 L102.1,604.79 L102.3,605.3 L102.5,605.9 L102.7,606.57 L102.9,607.27 L103.1,607.96 L103.3,608.61 L103.5,609.17 L103.7,609.63 L103.9,609.94 L104.1,610.11 L104.3,610.1 L104.5,609.92 L104.7,609.58 L104.9,609.09 L105.1,608.48 L105.3,607.77 L105.5,607 L105.7,606.22 L105.9,605.46 L106.1,604.77 L106.3,604.18 L106.5,603.72 L106.7,603.43 L106.9,603.31 L107.1,603.39 L107.3,603.65 L107.5,604.09 L107.7,604.69 L107.9,605.41 L108.1,606.22 L108.3,607.08 L108.5,607.95 L108.7,608.76 L108.9,609.49 L109.1,610.1 L109.3,610.54 L109.5,610.79 L109.7,610.84 L109.9,610.69 L110.1,610.34 L110.3,609.81 L110.5,609.11 L110.7,608.27 L110.9,607.34 L111.1,606.35 L111.3,605.36 L111.5,604.43 L111.7,603.61 L111.9,602.94 L112.1,602.47 L112.3,602.22 L112.5,602.22 L112.7,602.46 L112.9,602.96 L113.1,603.67 L113.3,604.58 L113.5,605.63 L113.7,606.78 L113.9,607.96 L114.1,609.11 L114.3,610.17 L114.5,611.08 L114.7,611.78 L114.9,612.24 L115.1,612.43 L115.3,612.32 L115.5,611.92 L115.7,611.25 L115.9,610.32 L116.1,609.2 L116.3,607.93 L116.5,606.57 L116.7,605.21 L116.9,603.91 L117.1,602.74 L117.3,601.78 L117.5,601.06 L117.7,600.65 L117.9,600.56 L118.1,600.81 L118.3,601.38 L118.5,602.26 L118.7,603.41 L118.9,604.76 L119.1,606.25 L119.3,607.81 L119.5,609.34 L119.7,610.77 L119.9,612.01 L120.1,613.03 L120.3,613.75 L120.5,614.13 L120.7,614.13 L120.9,613.74 L121.1,612.97 L121.3,611.86 L121.5,610.45 L121.7,608.82 L121.9,607.04 L122.1,605.19 L122.3,603.38 L122.5,601.72 L122.7,600.29 L122.9,599.18 L123.1,598.45 L123.3,598.16 L123.5,598.33 L123.7,598.97 L123.9,600.04 L124.1,601.51 L124.3,603.3 L124.5,605.33 L124.7,607.47 L124.9,609.59 L125.1,611.62 L125.3,613.43 L125.5,614.93 L125.7,616.04 L125.9,616.68 L126.1,616.8 L126.3,616.41 L126.5,615.57 L126.7,614.29 L126.9,612.53 L127.1,610.37 L127.3,607.92 L127.5,605.37 L127.7,602.9 L127.9,600.59 L128.1,598.58 L128.3,596.97 L128.5,595.87 L128.7,595.33 L128.9,595.39 L129.1,596.08 L129.3,597.38 L129.5,599.21 L129.7,601.46 L129.9,604.02 L130.1,606.76 L130.3,610.22 L130.5,613.65 L130.7,616.84 L130.9,619.6 L131.1,621.76 L131.3,623.01 L131.5,623.23 L131.7,622.59 L131.9,621.14 L132.1,618.96 L132.3,616.17 L132.5,612.94 L132.7,609.44 L132.9,606.03 L133.1,603.09 L133.3,600.33 L133.5,597.89 L133.7,595.91 L133.9,594.49 L134.1,593.72 L134.3,593.64 L134.5,594.25 L134.7,595.71 L134.9,597.73 L135.1,600.18 L135.3,602.94 L135.5,605.84 L135.7,608.95 L135.9,612.03 L136.1,614.79 L136.3,617.09 L136.5,618.83 L136.7,619.91 L136.9,620.3 L137.1,619.97 L137.3,619 L137.5,617.4 L137.7,615.27 L137.9,612.72 L138.1,609.91 L138.3,606.96 L138.5,604.53 L138.7,602.3 L138.9,600.36 L139.1,598.82 L139.3,597.75 L139.5,597.18 L139.7,597.14 L139.9,597.52 L140.1,598.31 L140.3,599.56 L140.5,601.21 L140.7,603.18 L140.9,605.36 L141.1,607.77 L141.3,610.39 L141.5,612.8 L141.7,614.86 L141.9,616.48 L142.1,617.58 L142.3,618.1 L142.5,618.03 L142.7,617.46 L142.9,616.34 L143.1,614.71 L143.3,612.67 L143.5,610.31 L143.7,607.77 L143.9,605.3 L144.1,602.95 L144.3,600.79 L144.5,598.94 L144.7,597.5 L144.9,596.54 L145.1,596.13 L145.3,596.14 L145.5,596.59 L145.7,597.66 L145.9,599.3 L146.1,601.46 L146.3,604.04 L146.5,606.92 L146.7,609.55 L146.9,612.05 L147.1,614.29 L147.3,616.15 L147.5,617.52 L147.7,618.33 L147.9,618.55 L148.1,618.15 L148.3,617.16 L148.5,615.8 L148.7,614.04 L148.9,611.71 L149.1,608.91 L149.3,605.49 L149.5,601.43 L149.7,597.51 L149.9,593.96 L150.1,590.98 L150.3,588.76 L150.5,587.45 L150.7,587.14 L150.9,587.89 L151.1,589.85 L151.3,592.88 L151.5,596.63 L151.7,600.9 L151.9,605.47 L152.1,610.25 L152.3,615.13 L152.5,619.79 L152.7,623.95 L152.9,627.38 L153.1,629.84 L153.3,630.75 L153.5,630.01 L153.7,628.09 L153.9,625.1 L154.1,621.23 L154.3,616.71 L154.5,611.78 L154.7,606.75 L154.9,602.3 L155.1,598.12 L155.3,594.41 L155.5,591.38 L155.7,589.18 L155.9,587.92 L156.1,587.53 L156.3,588.16 L156.5,589.79 L156.7,592.34 L156.9,595.69 L157.1,599.66 L157.3,604.05 L157.5,608.45 L157.7,612.39 L157.9,615.92 L158.1,618.86 L158.3,621.08 L158.5,622.49 L158.7,623.67 L158.9,623.99 L159.1,623.39 L159.3,621.86 L159.5,619.45 L159.7,616.26 L159.9,612.43 L160.1,608.15 L160.3,603.39 L160.5,598.66 L160.7,594.32 L160.9,590.6 L161.1,587.72 L161.3,585.83 L161.5,585.04 L161.7,585.4 L161.9,586.94 L162.1,589.56 L162.3,593.11 L162.5,597.38 L162.7,602.17 L162.9,607.24 L163.1,612.9 L163.3,618.41 L163.5,623.45 L163.7,627.75 L163.9,631.05 L164.1,633.14 L164.3,633.88 L164.5,632.98 L164.7,630.49 L164.9,626.78 L165.1,622.04 L165.3,616.54 L165.5,610.56 L165.7,604.83 L165.9,599.8 L166.1,595.13 L166.3,591.08 L166.5,587.86 L166.7,585.63 L166.9,584.53 L167.1,584.6 L167.3,585.71 L167.5,587.97 L167.7,591.26 L167.9,595.44 L168.1,600.27 L168.3,605.53 L168.5,611.27 L168.7,616.88 L168.9,621.93 L169.1,626.16 L169.3,629.35 L169.5,631.34 L169.7,632.03 L169.9,631.57 L170.1,629.94 L170.3,627.05 L170.5,623.03 L170.7,618.07 L170.9,612.41 L171.1,606.38 L171.3,600.49 L171.5,594.88 L171.7,589.84 L171.9,585.64 L172.1,582.51 L172.3,580.64 L172.5,580.15 L172.7,581.12 L172.9,583.46 L173.1,587.07 L173.3,591.74 L173.5,597.26 L173.7,603.32 L173.9,609.9 L174.1,616.78 L174.3,623.25 L174.5,628.96 L174.7,633.58 L174.9,636.87 L175.1,638.6 L175.3,638.68 L175.5,637.07 L175.7,633.83 L175.9,628.82 L176.1,622.72 L176.3,615.84 L176.5,608.56 L176.7,601.78 L176.9,595.38 L177.1,589.54 L177.3,584.58 L177.5,580.77 L177.7,578.31 L177.9,577.41 L178.1,578.12 L178.3,580.34 L178.5,583.96 L178.7,588.78 L178.9,594.55 L179.1,600.97 L179.3,607.69 L179.5,614.4 L179.7,620.63 L179.9,626.08 L180.1,630.46 L180.3,633.56 L180.5,635.22 L180.7,635.38 L180.9,634.05 L181.1,631.53 L181.3,627.88 L181.5,623.01 L181.7,617.16 L181.9,610.62 L182.1,603.83 L182.3,597.31 L182.5,591.3 L182.7,586.13 L182.9,582.05 L183.1,579.28 L183.3,577.97 L183.5,578.19 L183.7,579.91 L183.9,582.71 L184.1,586.88 L184.3,592.25 L184.5,598.55 L184.7,605.48 L184.9,613.37 L185.1,621.26 L185.3,628.54 L185.5,634.81 L185.7,639.72 L185.9,642.97 L186.1,644.36 L186.3,643.78 L186.5,641.16 L186.7,636.62 L186.9,630.45 L187.1,622.97 L187.3,614.54 L187.5,605.68 L187.7,597.2 L187.9,589.05 L188.1,581.67 L188.3,575.47 L188.5,570.83 L188.7,568.01 L188.9,567.21 L189.1,568.64 L189.3,572.24 L189.5,577.7 L189.7,584.75 L189.9,593.02 L190.1,602.09 L190.3,611.63 L190.5,621.2 L190.7,630.1 L190.9,637.87 L191.1,644.08 L191.3,648.39 L191.5,650.54 L191.7,650.4 L191.9,647.64 L192.1,642.75 L192.3,636.01 L192.5,627.76 L192.7,618.47 L192.9,608.61 L193.1,598.73 L193.3,589.24 L193.5,580.61 L193.7,573.32 L193.9,567.75 L194.1,564.21 L194.3,562.9 L194.5,563.71 L194.7,566.83 L194.9,572.13 L195.1,579.37 L195.3,588.19 L195.5,598.15 L195.7,608.55 L195.9,618 L196.1,626.82 L196.3,634.55 L196.5,640.78 L196.7,645.2 L196.9,647.58 L197.1,648.12 L197.3,646.77 L197.5,643.24 L197.7,637.69 L197.9,630.35 L198.1,621.59 L198.3,611.85 L198.5,600.82 L198.7,589.17 L198.9,578.3 L199.1,568.8 L199.3,561.19 L199.5,555.91 L199.7,553.48 L199.9,554.07 L200.1,557.45 L200.3,563.41 L200.5,571.65 L200.7,581.72 L200.9,593.09 L201.1,605.15 L201.3,617.03 L201.5,628.55 L201.7,639.13 L201.9,648.19 L202.1,655.22 L202.3,659.8 L202.5,661.36 L202.7,659.78 L202.9,655.41 L203.1,648.51 L203.3,639.44 L203.5,628.68 L203.7,616.8 L203.9,604.52 L204.1,592.76 L204.3,581.78 L204.5,572.14 L204.7,564.37 L204.9,558.85 L205.1,555.69 L205.3,555.03 L205.5,557.12 L205.7,561.87 L205.9,569.06 L206.1,578.35 L206.3,589.25 L206.5,601.22 L206.7,613.47 L206.9,625.24 L207.1,636.01 L207.3,645.23 L207.5,652.39 L207.7,657.15 L207.9,659.56 L208.1,659.52 L208.3,656.66 L208.5,651.08 L208.7,643.03 L208.9,632.89 L209.1,621.15 L209.3,608.41 L209.5,595.09 L209.7,582.22 L209.9,570.52 L210.1,560.62 L210.3,553.08 L210.5,548.31 L210.7,546.69 L210.9,548.25 L211.1,552.92 L211.3,560.47 L211.5,570.53 L211.7,582.59 L211.9,596.02 L212.1,610.25 L212.3,624.99 L212.5,639.01 L212.7,651.57 L212.9,661.96 L213.1,669.59 L213.3,673.18 L213.5,673.27 L213.7,669.88 L213.9,663.2 L214.1,653.63 L214.3,641.68 L214.5,628.01 L214.7,613.34 L214.9,598.47 L215.1,584 L215.3,570.65 L215.5,559.13 L215.7,550.06 L215.9,544.12 L216.1,541.67 L216.3,542.67 L216.5,547.03 L216.7,554.52 L216.9,564.73 L217.1,577.09 L217.3,590.96 L217.5,605.59 L217.7,619.57 L217.9,632.7 L218.1,644.36 L218.3,653.95 L218.5,660.98 L218.7,665.47 L218.9,666.89 L219.1,665.15 L219.3,660.33 L219.5,652.67 L219.7,642.57 L219.9,630.56 L220.1,617.25 L220.3,603.3 L220.5,589.38 L220.7,576.46 L220.9,565.22 L221.1,556.22 L221.3,549.83 L221.5,546.32 L221.7,546.01 L221.9,548.91 L222.1,554.87 L222.3,563.59 L222.5,574.62 L222.7,587.37 L222.9,601.19 L223.1,615.4 L223.3,629.25 L223.5,641.96 L223.7,652.87 L223.9,661.36 L224.1,666.97 L224.3,669.43 L224.5,668.59 L224.7,664.5 L224.9,657.37 L225.1,647.57 L225.3,635.6 L225.5,622.11 L225.7,607.79 L225.9,593.46 L226.1,579.82 L226.3,567.57 L226.5,557.37 L226.7,549.76 L226.9,545.3 L227.1,544.09 L227.3,546.19 L227.5,551.47 L227.7,559.66 L227.9,570.31 L228.1,582.86 L228.3,596.64 L228.5,611.01 L228.7,625.4 L228.9,638.83 L229.1,650.59 L229.3,660.06 L229.5,666.7 L229.7,670.19 L229.9,670.35 L230.1,667.17 L230.3,660.81 L230.5,651.62 L230.7,640.06 L230.9,626.76 L231.1,612.41 L231.3,598.17 L231.5,584.64 L231.7,572.33 L231.9,561.87 L232.1,553.81 L232.3,548.52 L232.5,546.29 L232.7,547.25 L232.9,551.35 L233.1,558.37 L233.3,567.95 L233.5,579.57 L233.7,592.63 L233.9,606.43 L234.1,620.96 L234.3,634.78 L234.5,647.13 L234.7,657.36 L234.9,664.93 L235.1,669.45 L235.3,670.67 L235.5,668.53 L235.7,663.14 L235.9,654.79 L236.1,643.92 L236.3,631.1 L236.5,617 L236.7,602.62 L236.9,589 L237.1,576.34 L237.3,565.29 L237.5,556.44 L237.7,550.25 L237.9,546.71 L238.1,546.33 L238.3,549.15 L238.5,555.06 L238.7,563.79 L238.9,574.89 L239.1,587.8 L239.3,601.86 L239.5,616.42 L239.7,630.55 L239.9,643.44 L240.1,654.4 L240.3,662.86 L240.5,668.37 L240.7,670.65 L240.9,669.56 L241.1,665.18 L241.3,657.72 L241.5,647.59 L241.7,635.31 L241.9,621.54 L242.1,606.99 L242.3,591.56 L242.5,576.78 L242.7,563.46 L242.9,552.32 L243.1,543.96 L243.3,539.36 L243.5,538.34 L243.7,540.93 L243.9,546.97 L244.1,556.13 L244.3,567.9 L244.5,581.65 L244.7,596.64 L244.9,611.83 L245.1,626.2 L245.3,639.56 L245.5,651.2 L245.7,660.69 L245.9,667.41 L246.1,670.98 L246.3,671.18 L246.5,667.99 L246.7,661.54 L246.9,652.16 L247.1,640.31 L247.3,626.62 L247.5,611.78 L247.7,596.87 L247.9,582.69 L248.1,569.86 L248.3,559.06 L248.5,550.83 L248.7,545.44 L248.9,543.13 L249.1,544.17 L249.3,548.52 L249.5,555.98 L249.7,566.16 L249.9,578.54 L250.1,592.47 L250.3,607.24 L250.5,623.09 L250.7,638.2 L250.9,651.75 L251.1,663.02 L251.3,671.39 L251.5,676.09 L251.7,677.13 L251.9,674.47 L252.1,668.27 L252.3,658.85 L252.5,646.73 L252.7,632.55 L252.9,617.06 L253.1,601.32 L253.3,586.25 L253.5,572.21 L253.7,559.95 L253.9,550.11 L254.1,543.27 L254.3,539.81 L254.5,539.89 L254.7,543.5 L254.9,550.45 L255.1,560.4 L255.3,572.8 L255.5,587.03 L255.7,602.32 L255.9,617.92 L256.1,632.93 L256.3,646.52 L256.5,657.99 L256.7,666.83 L256.9,672.64 L257.1,674.99 L257.3,673.76 L257.5,668.99 L257.7,660.93 L257.9,649.99 L258.1,636.73 L258.3,621.85 L258.5,606.13 L258.7,590.52 L258.9,575.75 L259.1,562.61 L259.3,551.77 L259.5,544.17 L259.7,539.94 L259.9,539.25 L260.1,542.13 L260.3,548.37 L260.5,557.63 L260.7,569.38 L260.9,582.99 L261.1,597.72 L261.3,613.26 L261.5,629.2 L261.7,644.02 L261.9,656.93 L262.1,667.05 L262.3,673.74 L262.5,676.86 L262.7,676.27 L262.9,672.06 L263.1,664.46 L263.3,653.93 L263.5,641.03 L263.7,626.48 L263.9,611.05 L264.1,596.66 L264.3,583.35 L264.5,571.42 L264.7,561.47 L264.9,553.83 L265.1,549.01 L265.3,547.25 L265.5,548.63 L265.7,553.07 L265.9,560.33 L266.1,570.01 L266.3,581.59 L266.5,594.46 L266.7,608 L266.9,622.22 L267.1,635.47 L267.3,647.07 L267.5,656.58 L267.7,663.43 L267.9,667.26 L268.1,667.9 L268.3,665.34 L268.5,659.72 L268.7,651.35 L268.9,640.7 L269.1,628.33 L269.3,614.91 L269.5,601.39 L269.7,588.56 L269.9,576.74 L270.1,566.55 L270.3,558.6 L270.5,553.23 L270.7,550.72 L270.9,551.17 L271.1,554.55 L271.3,560.66 L271.5,569.15 L271.7,579.57 L271.9,591.35 L272.1,603.87 L272.3,616.91 L272.5,629.47 L272.7,640.78 L272.9,650.24 L273.1,657.37 L273.3,661.81 L273.5,663.34 L273.7,661.89 L273.9,657.56 L274.1,650.6 L274.3,641.38 L274.5,630.4 L274.7,618.25 L274.9,605.65 L275.1,593.77 L275.3,582.66 L275.5,572.87 L275.7,564.87 L275.9,559.1 L276.1,555.86 L276.3,555.31 L276.5,557.48 L276.7,562.24 L276.9,569.34 L277.1,578.4 L277.3,588.93 L277.5,600.38 L277.7,612.33 L277.9,624.15 L278.1,635 L278.3,644.29 L278.5,651.73 L278.7,656.81 L278.9,659.26 L279.1,658.96 L279.3,655.91 L279.5,650.27 L279.7,642.35 L279.9,632.55 L280.1,621.39 L280.3,609.46 L280.5,597.83 L280.7,586.82 L280.9,576.9 L281.1,568.56 L281.3,562.24 L281.5,558.26 L281.7,556.85 L281.9,558.08 L282.1,561.88 L282.3,568.05 L282.5,576.26 L282.7,586.07 L282.9,596.98 L283.1,608.5 L283.3,620.55 L283.5,631.88 L283.7,641.91 L283.9,650.1 L284.1,655.84 L284.3,658.97 L284.5,659.35 L284.7,656.97 L284.9,651.97 L285.1,644.64 L285.3,635.38 L285.5,624.68 L285.7,613.12 L285.9,601.49 L286.1,590.37 L286.3,580.12 L286.5,571.25 L286.7,564.22 L286.9,559.42 L287.1,557.12 L287.3,557.43 L287.5,560.35 L287.7,565.74 L287.9,573.31 L288.1,582.68 L288.3,593.35 L288.5,604.77 L288.7,616.03 L288.9,626.67 L289.1,636.2 L289.3,644.13 L289.5,650.08 L289.7,653.76 L289.9,654.97 L290.1,653.65 L290.3,649.87 L290.5,643.85 L290.7,635.91 L290.9,626.47 L291.1,616.04 L291.3,605.02 L291.5,593.33 L291.7,582.32 L291.9,572.58 L292.1,564.65 L292.3,558.97 L292.5,555.81 L292.7,555.35 L292.9,557.6 L293.1,562.45 L293.3,569.64 L293.5,578.79 L293.7,589.43 L293.9,600.98 L294.1,612.21 L294.3,622.5 L294.5,631.92 L294.7,640 L294.9,646.75 L295.1,651.51 L295.3,653.97 L295.5,653.97 L295.7,651.46 L295.9,646.53 L296.1,639.39 L296.3,630.4 L296.5,619.99 L296.7,608.71 L296.9,596.93 L297.1,585.62 L297.3,575.44 L297.5,566.92 L297.7,560.5 L297.9,556.51 L298.1,555.16 L298.3,556.53 L298.5,560.56 L298.7,567.04 L298.9,575.63 L299.1,585.87 L299.3,597.24 L299.5,609.31 L299.7,622.2 L299.9,634.47 L300.1,645.46 L300.3,654.56 L300.5,661.27 L300.7,664.41 L300.9,664.49 L301.1,661.56 L301.3,655.79 L301.5,647.53 L301.7,637.24 L301.9,625.5 L302.1,612.92 L302.3,600.54 L302.5,588.85 L302.7,578.09 L302.9,568.84 L303.1,561.58 L303.3,557 L303.5,555.09 L303.7,555.91 L303.9,559.4 L304.1,565.35 L304.3,573.41 L304.5,583.13 L304.7,594 L304.9,605.42 L305.1,616.92 L305.3,627.75 L305.5,637.34 L305.7,645.19 L305.9,650.93 L306.1,654.39 L306.3,655.33 L306.5,653.73 L306.7,649.68 L306.9,643.42 L307.1,635.31 L307.3,625.78 L307.5,615.36 L307.7,604.64 L307.9,594.29 L308.1,584.74 L308.3,576.46 L308.5,569.88 L308.7,565.08 L308.9,562.48 L309.1,562.22 L309.3,564.31 L309.5,568.65 L309.7,575 L309.9,583.02 L310.1,592.3 L310.3,602.34 L310.5,612.46 L310.7,622.09 L310.9,630.81 L311.1,638.19 L311.3,643.85 L311.5,647.51 L311.7,649.13 L311.9,648.64 L312.1,645.96 L312.3,641.21 L312.5,634.65 L312.7,626.62 L312.9,617.54 L313.1,607.89 L313.3,597.75 L313.5,588.06 L313.7,579.36 L313.9,572.12 L314.1,566.71 L314.3,563.29 L314.5,562.15 L314.7,563.38 L314.9,566.9 L315.1,572.57 L315.3,580.07 L315.5,589.04 L315.7,599 L315.9,609.27 L316.1,618.96 L316.3,628.03 L316.5,635.99 L316.7,642.42 L316.9,646.87 L317.1,649.19 L317.3,649.28 L317.5,647.14 L317.7,642.9 L317.9,636.78 L318.1,629.13 L318.3,620.35 L318.5,610.91 L318.7,600.56 L318.9,589.97 L319.1,580.23 L319.3,571.98 L319.5,565.78 L319.7,561.8 L319.9,560.24 L320.1,561.14 L320.3,564.43 L320.5,569.91 L320.7,577.26 L320.9,586.08 L321.1,595.88 L321.3,606.14 L321.5,615.42 L321.7,624.12 L321.9,631.88 L322.1,638.28 L322.3,643.08 L322.5,646.07 L322.7,647.01 L322.9,645.84 L323.1,642.6 L323.3,637.46 L323.5,630.69 L323.7,622.63 L323.9,613.71 L324.1,604.37 L324.3,595.2 L324.5,586.77 L324.7,579.5 L324.9,573.77 L325.1,569.69 L325.3,567.4 L325.5,567.18 L325.7,569.06 L325.9,572.95 L326.1,578.65 L326.3,585.87 L326.5,594.22 L326.7,603.29 L326.9,612.78 L327.1,622.14 L327.3,630.73 L327.5,638.1 L327.7,643.75 L327.9,647.33 L328.1,648.76 L328.3,647.98 L328.5,645.05 L328.7,640.14 L328.9,633.52 L329.1,625.55 L329.3,616.67 L329.5,607.33 L329.7,597.81 L329.9,588.71 L330.1,580.53 L330.3,573.71 L330.5,568.64 L330.7,565.59 L330.9,564.72 L331.1,566.07 L331.3,569.58 L331.5,575.06 L331.7,582.23 L331.9,590.71 L332.1,600.06 L332.3,609.53 L332.5,618.21 L332.7,626.22 L332.9,633.15 L333.1,638.88 L333.3,643.22 L333.5,645.71 L333.7,646.17 L333.9,644.55 L334.1,640.88 L334.3,635.33 L334.5,628.14 L334.7,619.68 L334.9,610.38 L335.1,600.6 L335.3,591.05 L335.5,582.32 L335.7,574.87 L335.9,569.1 L336.1,565.31 L336.3,563.7 L336.5,564.37 L336.7,567.1 L336.9,571.82 L337.1,578.51 L337.3,586.84 L337.5,596.4 L337.7,606.7 L337.9,617.62 L338.1,628.16 L338.3,637.74 L338.5,645.84 L338.7,652 L338.9,655.85 L339.1,656.95 L339.3,655.19 L339.5,650.89 L339.7,644.28 L339.9,635.72 L340.1,625.65 L340.3,614.62 L340.5,603.06 L340.7,591.29 L340.9,580.17 L341.1,570.28 L341.3,562.18 L341.5,556.33 L341.7,553.08 L341.9,552.88 L342.1,555.78 L342.3,561.35 L342.5,569.31 L342.7,579.23 L342.9,590.58 L343.1,602.76 L343.3,614.4 L343.5,625.27 L343.7,635.15 L343.9,643.52 L344.1,649.95 L344.3,654.1 L344.5,655.77 L344.7,655.05 L344.9,651.78 L345.1,646.12 L345.3,638.35 L345.5,628.87 L345.7,618.16 L345.9,606.79 L346.1,594.71 L346.3,583.29 L346.5,573.15 L346.7,564.8 L346.9,558.7 L347.1,555.14 L347.3,554.31 L347.5,556.18 L347.7,560.65 L347.9,567.58 L348.1,576.61 L348.3,587.27 L348.5,599 L348.7,611.11 L348.9,622.9 L349.1,633.92 L349.3,643.57 L349.5,651.35 L349.7,656.82 L349.9,659.68 L350.1,659.59 L350.3,656.74 L350.5,651.25 L350.7,643.44 L350.9,633.71 L351.1,622.58 L351.3,610.63 L351.5,598.24 L351.7,586.16 L351.9,575.14 L352.1,565.76 L352.3,558.51 L352.5,553.79 L352.7,551.87 L352.9,552.83 L353.1,556.73 L353.3,563.32 L353.5,572.2 L353.7,582.89 L353.9,594.82 L354.1,607.34 L354.3,619.32 L354.5,630.64 L354.7,640.7 L354.9,648.97 L355.1,655.02 L355.3,658.53 L355.5,659.68 L355.7,658.04 L355.9,653.67 L356.1,646.75 L356.3,637.64 L356.5,626.77 L356.7,614.72 L356.9,602.19 L357.1,590.03 L357.3,578.78 L357.5,569.04 L357.7,561.31 L357.9,555.99 L358.1,553.36 L358.3,553.29 L358.5,555.81 L358.7,561.1 L358.9,568.92 L359.1,578.9 L359.3,590.54 L359.5,603.25 L359.7,616.81 L359.9,630.17 L360.1,642.44 L360.3,652.97 L360.5,661.18 L360.7,666.6 L360.9,668.91 L361.1,667.83 L361.3,663.41 L361.5,656 L361.7,645.97 L361.9,633.86 L362.1,620.29 L362.3,605.97 L362.5,591.38 L362.7,577.4 L362.9,564.78 L363.1,554.21 L363.3,546.29 L363.5,541.48 L363.7,540.07 L363.9,542.2 L364.1,548.33 L364.3,557.51 L364.5,569.25 L364.7,582.93 L364.9,597.81 L365.1,612.86 L365.3,627.25 L365.5,640.59 L365.7,652.19 L365.9,661.44 L366.1,668.07 L366.3,671.8 L366.5,672.13 L366.7,668.99 L366.9,662.48 L367.1,652.89 L367.3,640.67 L367.5,626.44 L367.7,610.91 L367.9,595.8 L368.1,581.6 L368.3,568.78 L368.5,558.03 L368.7,549.88 L368.9,544.77 L369.1,542.94 L369.3,544.23 L369.5,548.59 L369.7,556.1 L369.9,566.4 L370.1,578.98 L370.3,593.19 L370.5,608.53 L370.7,626.39 L370.9,643.49 L371.1,658.91 L371.3,671.79 L371.5,681.42 L371.7,686.71 L371.9,687.28 L372.1,683.63 L372.3,675.99 L372.5,664.81 L372.7,650.73 L372.9,634.5 L373.1,617.01 L373.3,599.73 L373.5,583.44 L373.7,568.23 L373.9,554.9 L374.1,544.18 L374.3,536.67 L374.5,532.8 L374.7,532.82 L374.9,536.77 L375.1,544.93 L375.3,556.32 L375.5,570.32 L375.7,586.18 L375.9,603.07 L376.1,619.53 L376.3,634.98 L376.5,648.76 L376.7,660.17 L376.9,668.64 L377.1,674.18 L377.3,676.59 L377.5,675.33 L377.7,670.43 L377.9,662.11 L378.1,650.76 L378.3,636.96 L378.5,621.41 L378.7,604.93 L378.9,588.54 L379.1,573.2 L379.3,559.69 L379.5,548.72 L379.7,540.85 L379.9,536.5 L380.1,535.86 L380.3,538.69 L380.5,545.14 L380.7,554.87 L380.9,567.37 L381.1,582.01 L381.3,598.01 L381.5,615.16 L381.7,632.76 L381.9,649.17 L382.1,663.51 L382.3,674.99 L382.5,682.97 L382.7,686.73 L382.9,686.27 L383.1,681.64 L383.3,673.04 L383.5,660.93 L383.7,645.94 L383.9,628.85 L384.1,610.55 L384.3,593.34 L384.5,577.11 L384.7,562.4 L384.9,549.99 L385.1,540.54 L385.3,534.56 L385.5,532.14 L385.7,533.66 L385.9,539.07 L386.1,548.13 L386.3,560.39 L386.5,575.23 L386.7,591.89 L386.9,609.67 L387.1,628.42 L387.3,646.07 L387.5,661.71 L387.7,674.5 L387.9,683.76 L388.1,688.62 L388.3,689.16 L388.5,685.38 L388.7,677.49 L388.9,665.95 L389.1,651.37 L389.3,634.56 L389.5,616.4 L389.7,597.66 L389.9,579.13 L390.1,561.91 L390.3,546.91 L390.5,534.97 L390.7,526.73 L390.9,522.66 L391.1,523.68 L391.3,529.06 L391.5,538.49 L391.7,551.44 L391.9,567.21 L392.1,584.95 L392.3,603.7 L392.5,621.54 L392.7,638.29 L392.9,653.28 L393.1,665.74 L393.3,675.02 L393.5,680.98 L393.7,683.05 L393.9,681.1 L394.1,675.24 L394.3,665.77 L394.5,653.17 L394.7,638.11 L394.9,621.37 L395.1,603.78 L395.3,586.17 L395.5,569.78 L395.7,555.47 L395.9,543.98 L396.1,535.88 L396.3,531.19 L396.5,530.48 L396.7,533.81 L396.9,540.99 L397.1,551.67 L397.3,565.28 L397.5,581.11 L397.7,598.34 L397.9,616.11 L398.1,633.48 L398.3,649.49 L398.5,663.28 L398.7,674.12 L398.9,681.3 L399.1,684.55 L399.3,683.71 L399.5,678.83 L399.7,670.17 L399.9,658.19 L400.1,643.54 L400.3,626.99 L400.5,609.41 L400.7,591.53 L400.9,574.4 L401.1,558.94 L401.3,545.98 L401.5,536.21 L401.7,530.15 L401.9,527.96 L402.1,529.93 L402.3,535.98 L402.5,545.82 L402.7,558.94 L402.9,574.68 L403.1,592.21 L403.3,610.43 L403.5,627.7 L403.7,643.85 L403.9,658.02 L404.1,669.47 L404.3,677.79 L404.5,682.59 L404.7,683.43 L404.9,680.23 L405.1,673.11 L405.3,662.43 L405.5,648.73 L405.7,632.69 L405.9,615.15 L406.1,596.42 L406.3,577.61 L406.5,560.24 L406.7,545.24 L406.9,533.41 L407.1,525.39 L407.3,522.02 L407.5,523.12 L407.7,528.63 L407.9,538.23 L408.1,551.42 L408.3,567.48 L408.5,585.56 L408.7,604.7 L408.9,623.84 L409.1,642.21 L409.3,658.85 L409.5,672.88 L409.7,683.29 L409.9,689.45 L410.1,691.25 L410.3,688.6 L410.5,681.67 L410.7,670.83 L410.9,656.68 L411.1,639.97 L411.3,621.6 L411.5,602.58 L411.7,584.03 L411.9,566.75 L412.1,551.64 L412.3,539.48 L412.5,530.91 L412.7,526.37 L412.9,526 L413.1,529.88 L413.3,537.82 L413.5,549.38 L413.7,563.95 L413.9,580.76 L414.1,598.93 L414.3,617.46 L414.5,635.35 L414.7,651.65 L414.9,665.54 L415.1,676.27 L415.3,683.31 L415.5,686.3 L415.7,685.1 L415.9,679.79 L416.1,670.68 L416.3,658.26 L416.5,643.19 L416.7,626.29 L416.9,608.45 L417.1,590.18 L417.3,572.78 L417.5,557.2 L417.7,544.26 L417.9,534.63 L418.1,528.77 L418.3,527.04 L418.5,529.51 L418.7,536.05 L418.9,546.33 L419.1,559.79 L419.3,575.73 L419.5,593.31 L419.7,611.36 L419.9,628.4 L420.1,644.24 L420.3,658.03 L420.5,669.13 L420.7,676.99 L420.9,681.16 L421.1,681.41 L421.3,677.74 L421.5,670.34 L421.7,659.6 L421.9,646.11 L422.1,630.56 L422.3,613.78 L422.5,595.96 L422.7,578.27 L422.9,562.08 L423.1,548.26 L423.3,537.54 L423.5,530.46 L423.7,527.57 L423.9,528.87 L424.1,534.26 L424.3,543.44 L424.5,555.93 L424.7,571.04 L424.9,587.98 L425.1,605.84 L425.3,622.82 L425.5,638.88 L425.7,653.24 L425.9,665.15 L426.1,673.98 L426.3,679.27 L426.5,680.75 L426.7,678.33 L426.9,672.16 L427.1,662.55 L427.3,650.03 L427.5,635.24 L427.7,618.98 L427.9,601.94 L428.1,584.83 L428.3,568.94 L428.5,555.12 L428.7,544.09 L428.9,536.4 L429.1,531.89 L429.3,531.31 L429.5,534.73 L429.7,542.01 L429.9,552.81 L430.1,566.59 L430.3,582.65 L430.5,600.17 L430.7,617.4 L430.9,633.6 L431.1,648.39 L431.3,660.97 L431.5,670.73 L431.7,677.13 L431.9,679.82 L432.1,678.68 L432.3,673.75 L432.5,665.3 L432.7,653.78 L432.9,639.78 L433.1,624.05 L433.3,607.42 L433.5,588.23 L433.7,569.76 L433.9,553.07 L434.1,539.09 L434.3,529.41 L434.5,523.93 L434.7,522.86 L434.9,526.21 L435.1,533.75 L435.3,545.02 L435.5,559.4 L435.7,576.07 L435.9,594.14 L436.1,612.12 L436.3,628.59 L436.5,643.91 L436.7,657.28 L436.9,667.78 L437.1,675.02 L437.3,678.62 L437.5,678.43 L437.7,674.49 L437.9,667.03 L438.1,656.46 L438.3,643.36 L438.5,628.45 L438.7,612.5 L438.9,596 L439.1,580.08 L439.3,565.8 L439.5,553.88 L439.7,544.62 L439.9,538.34 L440.1,535.65 L440.3,536.72 L440.5,541.49 L440.7,549.74 L440.9,561.05 L441.1,574.82 L441.3,590.36 L441.5,606.84 L441.7,622.03 L441.9,636.31 L442.1,648.94 L442.3,659.59 L442.5,667.52 L442.7,672.29 L442.9,673.63 L443.1,671.45 L443.3,665.84 L443.5,657.1 L443.7,645.66 L443.9,632.12 L444.1,617.17 L444.3,601.08 L444.5,584.2 L444.7,568.45 L444.9,554.66 L445.1,543.79 L445.3,536.27 L445.5,532.49 L445.7,532.63 L445.9,536.68 L446.1,544.42 L446.3,555.42 L446.5,569.09 L446.7,584.72 L446.9,601.47 L447.1,617.88 L447.3,633.49 L447.5,647.77 L447.7,659.96 L447.9,669.41 L448.1,675.38 L448.3,677.73 L448.5,676.35 L448.7,671.32 L448.9,662.9 L449.1,651.55 L449.3,637.88 L449.5,622.6 L449.7,606.5 L449.9,589.97 L450.1,574.37 L450.3,560.53 L450.5,549.17 L450.7,540.87 L450.9,536.08" fill="none" stroke="#a32222" stroke-width="1.55" stroke-linejoin="round" />
<path d="M80.5,606.54 L81.85,608.54 L83.2,606.86 L84.55,608.02 L85.9,604.97 L87.25,607.16 L88.6,605.01 L89.95,612.08 L91.3,602.53 L92.65,611.38 L94,603.91 L95.35,614.63 L96.7,604.09 L98.05,608.26 L99.4,601.52 L100.75,611.84 L102.1,601.38 L103.45,613.21 L104.8,597.71 L106.15,616.2 L107.5,601.96 L108.85,610.95 L110.2,597.86 L111.55,615.23 L112.9,597.27 L114.25,610 L115.6,598.37 L116.95,617.3 L118.3,603.83 L119.65,614.66 L121,602.95 L122.35,616.06 L123.7,603.51 L125.05,613.32 L126.4,599.22 L127.75,614.18 L129.1,603.01 L130.45,609.85 L131.8,602.73 L133.15,610.39 L134.5,597.05 L135.85,612.19 L137.2,603.62 L138.55,616.43 L139.9,603.75 L141.25,610.51 L142.6,597.81 L143.95,610.98 L145.3,603.6 L146.65,611.68 L148,602.4 L149.35,617.26 L150.7,600.25 L152.05,610.33 L153.4,596.81 L154.75,610.59 L156.1,598.67 L157.45,611.29 L158.8,598.56 L160.15,613.25 L161.5,604.33 L162.85,610.8 L164.2,601.71 L165.55,613.17 L166.9,602.84 L168.25,610.28 L169.6,600.96 L170.95,614.73 L172.3,597.79 L173.65,609.19 L175,595.64 L176.35,609.99 L177.7,599.81 L179.05,612.42 L180.4,597.78 L181.75,615.33 L183.1,600.83 L184.45,609.26 L185.8,598.42 L187.15,608.8 L188.5,600.43 L189.85,612.04 L191.2,604.55 L192.55,615.69 L193.9,599.25 L195.25,615.13 L196.6,601.07 L197.95,615.38 L199.3,600.86 L200.65,616.07 L202,600.39 L203.35,614.55 L204.7,604.23 L206.05,616.69 L207.4,598.27 L208.75,614.13 L210.1,600.64 L211.45,610.16 L212.8,604.82 L214.15,613.8 L215.5,599.64 L216.85,613.91 L218.2,598.32 L219.55,610.86 L220.9,602.38 L222.25,616.27 L223.6,601.7 L224.95,612.65 L226.3,603.44 L227.65,615.4 L229,597.21 L230.35,612.97 L231.7,602.83 L233.05,615.69 L234.4,599.64 L235.75,612.28 L237.1,601.59 L238.45,611.02 L239.8,599.16 L241.15,610.97 L242.5,596.44 L243.85,612.36 L245.2,591.14 L246.55,615.51 L247.9,602.69 L249.25,609.62 L250.6,595.76 L251.95,614.83 L253.3,599.87 L254.65,614.01 L256,600.16 L257.35,616.25 L258.7,599.92 L260.05,613.1 L261.4,603.86 L262.75,613.97 L264.1,601.69 L265.45,614.47 L266.8,600.22 L268.15,613.13 L269.5,598.29 L270.85,616.59 L272.2,603.02 L273.55,613.32 L274.9,600.88 L276.25,615.77 L277.6,597.7 L278.95,615.05 L280.3,599.7 L281.65,614.46 L283,602.45 L284.35,616 L285.7,599.65 L287.05,611.52 L288.4,598.31 L289.75,610.77 L291.1,601.01 L292.45,618.29 L293.8,591.18 L295.15,614.67 L296.5,601.14 L297.85,610.12 L299.2,600.8 L300.55,616.42 L301.9,598.06 L303.25,616.88 L304.6,602.5 L305.95,610.87 L307.3,598.84 L308.65,615.34 L310,602.28 L311.35,616.43 L312.7,603.61 L314.05,617.08 L315.4,599.92 L316.75,612.74 L318.1,593.45 L319.45,616.23 L320.8,601.55 L322.15,614.28 L323.5,593.86 L324.85,613.9 L326.2,597.1 L327.55,610.78 L328.9,602.66 L330.25,615.03 L331.6,600.92 L332.95,611.46 L334.3,598.26 L335.65,622.43 L337,602.88 L338.35,613.95 L339.7,600.94 L341.05,609.65 L342.4,603.52 L343.75,611.87 L345.1,601.22 L346.45,612.77 L347.8,600.42 L349.15,610.37 L350.5,598.81 L351.85,615.21 L353.2,597.95 L354.55,615.5 L355.9,598.43 L357.25,612.36 L358.6,602.82 L359.95,615.54 L361.3,601.81 L362.65,610.73 L364,598.08 L365.35,615.82 L366.7,602.17 L368.05,610.17 L369.4,599.39 L370.75,616.19 L372.1,599.82 L373.45,612.52 L374.8,602.84 L376.15,613.28 L377.5,601.05 L378.85,614.34 L380.2,603.19 L381.55,615.28 L382.9,596.67 L384.25,609.18 L385.6,600.73 L386.95,612.25 L388.3,601.31 L389.65,620.21 L391,599.37 L392.35,610.39 L393.7,598.09 L395.05,610.15 L396.4,595.22 L397.75,616.45 L399.1,599.87 L400.45,614.85 L401.8,600.19 L403.15,616.45 L404.5,601.72 L405.85,614.24 L407.2,597.98 L408.55,616.42 L409.9,599.92 L411.25,615.89 L412.6,599.32 L413.95,611.7 L415.3,603.6 L416.65,613.43 L418,602.29 L419.35,614.63 L420.7,600.16 L422.05,614.17 L423.4,597.29 L424.75,614.45 L426.1,588.48 L427.45,613.24 L428.8,602.06 L430.15,609.96 L431.5,602.26 L432.85,612.06 L434.2,600.72 L435.55,616.5 L436.9,596.28 L438.25,614.68 L439.6,599.45 L440.95,609.86 L442.3,603.84 L443.65,611.46 L445,594.64 L446.35,616.4 L447.7,599.83 L449.05,611.35 L450.4,598.97" fill="none" stroke="#238c23" stroke-width="0.85" stroke-linejoin="round" />
</g>
<rect x="188.7" y="586.5" width="111.5" height="41.8" fill="#ffffff" fill-opacity="0.82"/>
<line x1="204" y1="514.7" x2="204" y2="522.7" stroke="#000" stroke-width="1.6" />
<line x1="204" y1="699.8" x2="204" y2="691.8" stroke="#000" stroke-width="1.6" />
<line x1="327.5" y1="514.7" x2="327.5" y2="522.7" stroke="#000" stroke-width="1.6" />
<line x1="327.5" y1="699.8" x2="327.5" y2="691.8" stroke="#000" stroke-width="1.6" />
<line x1="80.5" y1="527.52" x2="88.5" y2="527.52" stroke="#000" stroke-width="1.6" />
<line x1="451" y1="527.52" x2="443" y2="527.52" stroke="#000" stroke-width="1.6" />
<line x1="80.5" y1="606.9" x2="88.5" y2="606.9" stroke="#000" stroke-width="1.6" />
<line x1="451" y1="606.9" x2="443" y2="606.9" stroke="#000" stroke-width="1.6" />
<line x1="80.5" y1="686.28" x2="88.5" y2="686.28" stroke="#000" stroke-width="1.6" />
<line x1="451" y1="686.28" x2="443" y2="686.28" stroke="#000" stroke-width="1.6" />
<rect x="80.5" y="514.7" width="370.5" height="185.1" fill="none" stroke="#000" stroke-width="2"/>
<text x="68.9" y="538.12" font-size="29" fill="#000" font-family="Liberation Sans, sans-serif" font-weight="normal" font-style="normal" text-anchor="end" >6</text>
<text x="68.9" y="617.5" font-size="29" fill="#000" font-family="Liberation Sans, sans-serif" font-weight="normal" font-style="normal" text-anchor="end" >0</text>
<text x="68.9" y="696.88" font-size="29" fill="#000" font-family="Liberation Sans, sans-serif" font-weight="normal" font-style="normal" text-anchor="end" >-6</text>
<path d="M214,682.6 L442,682.6" stroke="#000" stroke-width="4.4"/>
<path d="M205,682.6 L217,676.6 L215.8,682.6 L217,688.6 Z" fill="#000"/>
<path d="M451.2,682.6 L439.2,676.6 L440.4,682.6 L439.2,688.6 Z" fill="#000"/>
<text x="87.55" y="552" font-size="29.5" fill="#9b1c1f" font-family="Liberation Serif, serif" font-weight="normal" font-style="italic">J</text>
<text x="105.5" y="559.3" font-size="18" fill="#9b1c1f" font-family="Liberation Serif, serif" font-weight="normal" font-style="italic">y</text>
<text x="125.69" y="552" font-size="29.5" fill="#9b1c1f" font-family="Liberation Serif, serif" font-weight="normal" font-style="normal">for</text>
<text x="167.05" y="552" font-size="29.5" fill="#9b1c1f" font-family="Liberation Serif, serif" font-weight="normal" font-style="italic">E</text>
<text x="184.62" y="559.2" font-size="18" fill="#9b1c1f" font-family="Liberation Serif, serif" font-weight="normal" font-style="italic">x</text>
<text x="191.75" y="613.9" font-size="29.5" fill="#238c23" font-family="Liberation Serif, serif" font-weight="normal" font-style="italic">J</text>
<text x="208.52" y="620.7" font-size="18" fill="#238c23" font-family="Liberation Serif, serif" font-weight="normal" font-style="italic">x</text>
<text x="229.09" y="613.9" font-size="29.5" fill="#238c23" font-family="Liberation Serif, serif" font-weight="normal" font-style="normal">for</text>
<text x="269.65" y="613.9" font-size="29.5" fill="#238c23" font-family="Liberation Serif, serif" font-weight="normal" font-style="italic">E</text>
<text x="289.3" y="620.5" font-size="18" fill="#238c23" font-family="Liberation Serif, serif" font-weight="normal" font-style="italic">y</text>
<text transform="translate(26.5,607.5) rotate(-90)" x="0" y="0" font-size="27.5" font-family="Liberation Sans, sans-serif" text-anchor="middle"><tspan font-style="italic">J</tspan><tspan font-size="17" dy="5">⊥</tspan><tspan dy="-5">(</tspan><tspan font-style="italic">t</tspan>) (nA Å<tspan font-size="17" dy="-11">-1</tspan><tspan dy="11">)</tspan></text>
<text x="80.5" y="728.8" font-size="29" fill="#000" font-family="Liberation Sans, sans-serif" font-weight="normal" font-style="normal" text-anchor="middle" >0</text>
<text x="204" y="728.8" font-size="29" fill="#000" font-family="Liberation Sans, sans-serif" font-weight="normal" font-style="normal" text-anchor="middle" >20</text>
<text x="327.5" y="728.8" font-size="29" fill="#000" font-family="Liberation Sans, sans-serif" font-weight="normal" font-style="normal" text-anchor="middle" >40</text>
<text x="451" y="728.8" font-size="29" fill="#000" font-family="Liberation Sans, sans-serif" font-weight="normal" font-style="normal" text-anchor="middle" >60</text>
<text x="265.5" y="759.5" font-size="28" fill="#000" font-family="Liberation Sans, sans-serif" font-weight="normal" font-style="normal" text-anchor="middle" >Time (fs)</text>
<line x1="601.55" y1="399" x2="601.55" y2="407" stroke="#000" stroke-width="1.6" />
<line x1="601.55" y1="699.9" x2="601.55" y2="691.9" stroke="#000" stroke-width="1.6" />
<line x1="648.5" y1="399" x2="648.5" y2="407" stroke="#000" stroke-width="1.6" />
<line x1="648.5" y1="699.9" x2="648.5" y2="691.9" stroke="#000" stroke-width="1.6" />
<line x1="695.45" y1="399" x2="695.45" y2="407" stroke="#000" stroke-width="1.6" />
<line x1="695.45" y1="699.9" x2="695.45" y2="691.9" stroke="#000" stroke-width="1.6" />
<line x1="554.6" y1="674.5" x2="562.6" y2="674.5" stroke="#000" stroke-width="1.6" />
<line x1="742.4" y1="674.5" x2="734.4" y2="674.5" stroke="#000" stroke-width="1.6" />
<line x1="554.6" y1="549.2" x2="562.6" y2="549.2" stroke="#000" stroke-width="1.6" />
<line x1="742.4" y1="549.2" x2="734.4" y2="549.2" stroke="#000" stroke-width="1.6" />
<line x1="554.6" y1="423.9" x2="562.6" y2="423.9" stroke="#000" stroke-width="1.6" />
<line x1="742.4" y1="423.9" x2="734.4" y2="423.9" stroke="#000" stroke-width="1.6" />
<clipPath id="cd"><rect x="554.6" y="399" width="187.8" height="300.9"/></clipPath>
<g clip-path="url(#cd)">
<path d="M549.6,674.7 L640.8,674.2 L643.5,672 L645,667 L647.8,491 L649.3,663 L651.3,641.5 L654.6,674.2 L747.4,674.7" fill="none" stroke="#a51e22" stroke-width="3.2" stroke-linejoin="round" />
<line x1="555.6" y1="674.7" x2="742.4" y2="674.7" stroke="#238c23" stroke-width="4.5" stroke-dasharray="4.6 4.38"/>
</g>
<rect x="554.6" y="399" width="187.8" height="300.9" fill="none" stroke="#000" stroke-width="2"/>
<text x="543.9" y="684.1" font-size="29" fill="#000" font-family="Liberation Sans, sans-serif" font-weight="normal" font-style="normal" text-anchor="end" >0</text>
<text x="543.9" y="558.8" font-size="29" fill="#000" font-family="Liberation Sans, sans-serif" font-weight="normal" font-style="normal" text-anchor="end" >1</text>
<text x="543.9" y="433.5" font-size="29" fill="#000" font-family="Liberation Sans, sans-serif" font-weight="normal" font-style="normal" text-anchor="end" >2</text>
<text x="561.2" y="728.8" font-size="29" fill="#000" font-family="Liberation Sans, sans-serif" font-weight="normal" font-style="normal" text-anchor="middle" >0</text>
<text x="602.3" y="728.8" font-size="29" fill="#000" font-family="Liberation Sans, sans-serif" font-weight="normal" font-style="normal" text-anchor="middle" >1</text>
<text x="647.8" y="728.8" font-size="29" fill="#000" font-family="Liberation Sans, sans-serif" font-weight="normal" font-style="normal" text-anchor="middle" >2</text>
<text x="693.8" y="728.8" font-size="29" fill="#000" font-family="Liberation Sans, sans-serif" font-weight="normal" font-style="normal" text-anchor="middle" >3</text>
<text x="736.7" y="728.8" font-size="29" fill="#000" font-family="Liberation Sans, sans-serif" font-weight="normal" font-style="normal" text-anchor="middle" >4</text>
<text x="649" y="759.5" font-size="28" font-family="Liberation Sans, sans-serif" text-anchor="middle">Harmonics (<tspan font-style="italic">ω</tspan><tspan font-size="20" dy="7">0</tspan><tspan dy="-7">)</tspan></text>
<text transform="translate(505.5,552.5) rotate(-90)" x="0" y="0" font-size="27.5" font-family="Liberation Sans, sans-serif" text-anchor="middle">|F[<tspan font-style="italic">J</tspan><tspan font-size="17" dy="5">⊥</tspan><tspan dy="-5">(</tspan><tspan font-style="italic">t</tspan>)]|<tspan font-size="17" dy="-11">2</tspan><tspan dy="11"> (arb. unit)</tspan></text>
<line x1="629.4" y1="488.5" x2="669.3" y2="488.5" stroke="#000" stroke-width="3" stroke-dasharray="3 2.1"/>
<path d="M698.5,476.6 L684,482.9" stroke="#000" stroke-width="2.6"/>
<path d="M675.8,486.5 L682.5,477.8 L686.6,487.2 Z" fill="#000"/>
<text x="698.4" y="441.6" font-size="23" fill="#000" font-family="Liberation Sans, sans-serif" font-weight="normal" font-style="normal" text-anchor="middle" >SHG</text>
<text x="698.7" y="467.9" font-size="23" fill="#000" font-family="Liberation Sans, sans-serif" font-weight="normal" font-style="normal" text-anchor="middle" >Yield</text>
<text x="591.45" y="524.7" font-size="29.5" fill="#a51e22" font-family="Liberation Serif, serif" font-weight="normal" font-style="italic">J</text>
<text x="609.1" y="533" font-size="18" fill="#a51e22" font-family="Liberation Serif, serif" font-weight="normal" font-style="italic">y</text>
<text x="570.49" y="572.9" font-size="29.5" fill="#a51e22" font-family="Liberation Serif, serif" font-weight="normal" font-style="normal">for</text>
<text x="612.15" y="572.9" font-size="29.5" fill="#a51e22" font-family="Liberation Serif, serif" font-weight="normal" font-style="italic">E</text>
<text x="630.72" y="580" font-size="18" fill="#a51e22" font-family="Liberation Serif, serif" font-weight="normal" font-style="italic">x</text>
<text x="685.85" y="614.7" font-size="29.5" fill="#238c23" font-family="Liberation Serif, serif" font-weight="normal" font-style="italic">J</text>
<text x="702.22" y="621.9" font-size="18" fill="#238c23" font-family="Liberation Serif, serif" font-weight="normal" font-style="italic">x</text>
<text x="664.29" y="659.6" font-size="29.5" fill="#238c23" font-family="Liberation Serif, serif" font-weight="normal" font-style="normal">for</text>
<text x="705.35" y="659.6" font-size="29.5" fill="#238c23" font-family="Liberation Serif, serif" font-weight="normal" font-style="italic">E</text>
<text x="724.5" y="666.5" font-size="18" fill="#238c23" font-family="Liberation Serif, serif" font-weight="normal" font-style="italic">y</text>
<line x1="127" y1="789.3" x2="127" y2="797.8" stroke="#000" stroke-width="1.5" />
<line x1="127" y1="1085.7" x2="127" y2="1077.2" stroke="#000" stroke-width="1.5" />
<line x1="224.8" y1="789.3" x2="224.8" y2="797.8" stroke="#000" stroke-width="1.5" />
<line x1="224.8" y1="1085.7" x2="224.8" y2="1077.2" stroke="#000" stroke-width="1.5" />
<line x1="322.6" y1="789.3" x2="322.6" y2="797.8" stroke="#000" stroke-width="1.5" />
<line x1="322.6" y1="1085.7" x2="322.6" y2="1077.2" stroke="#000" stroke-width="1.5" />
<line x1="80.8" y1="1061.2" x2="89.3" y2="1061.2" stroke="#000" stroke-width="1.5" />
<line x1="377.6" y1="1061.2" x2="369.1" y2="1061.2" stroke="#000" stroke-width="1.5" />
<line x1="80.8" y1="978.8" x2="89.3" y2="978.8" stroke="#000" stroke-width="1.5" />
<line x1="377.6" y1="978.8" x2="369.1" y2="978.8" stroke="#000" stroke-width="1.5" />
<line x1="80.8" y1="896.4" x2="89.3" y2="896.4" stroke="#000" stroke-width="1.5" />
<line x1="377.6" y1="896.4" x2="369.1" y2="896.4" stroke="#000" stroke-width="1.5" />
<line x1="80.8" y1="814" x2="89.3" y2="814" stroke="#000" stroke-width="1.5" />
<line x1="377.6" y1="814" x2="369.1" y2="814" stroke="#000" stroke-width="1.5" />
<line x1="80.8" y1="1061.2" x2="377.6" y2="1061.2" stroke="#888" stroke-width="1" stroke-dasharray="2 2"/>
<clipPath id="cl0"><rect x="80.8" y="789.3" width="296.8" height="296.4"/></clipPath>
<g clip-path="url(#cl0)">
<rect x="99.3" y="1052.6" width="17.6" height="17.2" fill="#a51e22"/>
<rect x="138.3" y="1052.2" width="17.6" height="17.2" fill="#a51e22"/>
<rect x="177.1" y="1049.9" width="17.6" height="17.2" fill="#a51e22"/>
<rect x="197.2" y="1048.2" width="17.6" height="17.2" fill="#a51e22"/>
<rect x="216.3" y="992" width="17.6" height="17.2" fill="#a51e22"/>
<rect x="224.4" y="870.4" width="17.6" height="17.2" fill="#a51e22"/>
<rect x="257" y="976.2" width="17.6" height="17.2" fill="#a51e22"/>
<rect x="275.9" y="1003.5" width="17.6" height="17.2" fill="#a51e22"/>
<rect x="294.8" y="1040.3" width="17.6" height="17.2" fill="#a51e22"/>
<rect x="317.2" y="1027.1" width="17.6" height="17.2" fill="#a51e22"/>
<rect x="341.5" y="1038.8" width="17.6" height="17.2" fill="#a51e22"/>
<path d="M80,1061.2 L205,1060.6 L212.7,1059.5 L215.5,1055.5 L217.6,1048.9 L220.5,1025.6 L222.4,994.7 L224.3,956 L226.3,921.2 L228.2,894.1 L230.1,870.9 L232.1,855.5 L233.2,853.1 L236.9,853.1 L240.8,865.1 L245.6,878.7 L250.4,894.1 L255.3,917.4 L258.2,930.9 L261.1,950.2 L264,967.6 L266.9,977.3 L270,992.9 L272.9,1001.8 L275.9,1010.6 L280.3,1019.5 L284.7,1026.8 L289.1,1034.2 L292.1,1037.9 L296.5,1040.1 L300.9,1043.8 L305.3,1047.4 L309.8,1048.6 L314.2,1049.6 L318.6,1051.9 L323,1053.6 L330.4,1053.6 L334.8,1054.8 L340.7,1056.6 L348.1,1056.3 L355.4,1057.7 L364.3,1058 L371.6,1058.2 L376.8,1059.2 L382,1059.6" fill="none" stroke="#000" stroke-width="3.6" stroke-linejoin="round" stroke-linecap="round"/>
</g>
<rect x="80.8" y="789.3" width="296.8" height="296.4" fill="none" stroke="#000" stroke-width="2"/>
<text x="70.3" y="1072.6" font-size="29" fill="#000" font-family="Liberation Sans, sans-serif" font-weight="normal" font-style="normal" text-anchor="end" >0</text>
<text x="70.3" y="990.2" font-size="29" fill="#000" font-family="Liberation Sans, sans-serif" font-weight="normal" font-style="normal" text-anchor="end" >2</text>
<text x="70.3" y="907.8" font-size="29" fill="#000" font-family="Liberation Sans, sans-serif" font-weight="normal" font-style="normal" text-anchor="end" >4</text>
<text x="70.3" y="825.4" font-size="29" fill="#000" font-family="Liberation Sans, sans-serif" font-weight="normal" font-style="normal" text-anchor="end" >6</text>
<text x="127.2" y="1117.3" font-size="28" fill="#000" font-family="Liberation Sans, sans-serif" font-weight="normal" font-style="normal" text-anchor="middle" >0.25</text>
<text x="225.3" y="1117.3" font-size="28" fill="#000" font-family="Liberation Sans, sans-serif" font-weight="normal" font-style="normal" text-anchor="middle" >0.50</text>
<text x="322.3" y="1117.3" font-size="28" fill="#000" font-family="Liberation Sans, sans-serif" font-weight="normal" font-style="normal" text-anchor="middle" >0.75</text>
<text x="228.8" y="1152.3" font-size="28" font-family="Liberation Sans, sans-serif" text-anchor="middle"><tspan font-style="italic">ħω</tspan>/<tspan font-style="italic">ε</tspan><tspan font-size="20" dy="6">gap</tspan></text>
<text x="202.13" y="835.7" font-size="43.5" fill="#000" font-family="Liberation Sans, sans-serif" font-weight="normal" font-style="normal">D</text>
<text x="232.95" y="845.6" font-size="27.5" fill="#000" font-family="Liberation Sans, sans-serif" font-weight="normal" font-style="normal">3h</text>
<rect x="100.1" y="905.1" width="18" height="17.5" fill="#a51e22"/>
<text x="125.1" y="923.2" font-size="28" fill="#000" font-family="Liberation Sans, sans-serif" font-weight="normal" font-style="normal" text-anchor="start" >TDDFT</text>
<line x1="93" y1="946.3" x2="123.8" y2="946.3" stroke="#000" stroke-width="3.6" />
<text x="130.8" y="956" font-size="28" font-family="Liberation Sans, sans-serif">|<tspan font-style="italic">ω χ</tspan><tspan font-size="18" dy="-11" dx="-1">(2)</tspan><tspan dy="11">|</tspan></text>
<text transform="translate(30.8,939.5) rotate(-90)" x="0" y="0" font-size="28" font-family="Liberation Sans, sans-serif" text-anchor="middle">SHG Yield</text>
<line x1="493.4" y1="789.5" x2="493.4" y2="798" stroke="#000" stroke-width="1.5" />
<line x1="493.4" y1="1085.8" x2="493.4" y2="1077.3" stroke="#000" stroke-width="1.5" />
<line x1="591.2" y1="789.5" x2="591.2" y2="798" stroke="#000" stroke-width="1.5" />
<line x1="591.2" y1="1085.8" x2="591.2" y2="1077.3" stroke="#000" stroke-width="1.5" />
<line x1="689" y1="789.5" x2="689" y2="798" stroke="#000" stroke-width="1.5" />
<line x1="689" y1="1085.8" x2="689" y2="1077.3" stroke="#000" stroke-width="1.5" />
<line x1="446.5" y1="1061.2" x2="455" y2="1061.2" stroke="#000" stroke-width="1.5" />
<line x1="743.3" y1="1061.2" x2="734.8" y2="1061.2" stroke="#000" stroke-width="1.5" />
<line x1="446.5" y1="978.8" x2="455" y2="978.8" stroke="#000" stroke-width="1.5" />
<line x1="743.3" y1="978.8" x2="734.8" y2="978.8" stroke="#000" stroke-width="1.5" />
<line x1="446.5" y1="896.4" x2="455" y2="896.4" stroke="#000" stroke-width="1.5" />
<line x1="743.3" y1="896.4" x2="734.8" y2="896.4" stroke="#000" stroke-width="1.5" />
<line x1="446.5" y1="814" x2="455" y2="814" stroke="#000" stroke-width="1.5" />
<line x1="743.3" y1="814" x2="734.8" y2="814" stroke="#000" stroke-width="1.5" />
<line x1="446.5" y1="1061.2" x2="743.3" y2="1061.2" stroke="#888" stroke-width="1" stroke-dasharray="2 2"/>
<clipPath id="cl366.4"><rect x="446.5" y="789.5" width="296.8" height="296.3"/></clipPath>
<g clip-path="url(#cl366.4)">
<rect x="466.2" y="1052" width="17.6" height="17.2" fill="#a51e22"/>
<rect x="504.7" y="1052" width="17.6" height="17.2" fill="#a51e22"/>
<rect x="543.2" y="1049.9" width="17.6" height="17.2" fill="#a51e22"/>
<rect x="582.5" y="1050.5" width="17.6" height="17.2" fill="#a51e22"/>
<rect x="621.3" y="1034.2" width="17.6" height="17.2" fill="#a51e22"/>
<rect x="638.3" y="965.4" width="17.6" height="17.2" fill="#a51e22"/>
<rect x="659.6" y="847.7" width="17.6" height="17.2" fill="#a51e22"/>
<rect x="681.9" y="810.2" width="17.6" height="17.2" fill="#a51e22"/>
<rect x="710.2" y="844" width="17.6" height="17.2" fill="#a51e22"/>
<path d="M446,1061.8 C462.5,1061.82 526,1061.92 545,1061.9 C564,1061.88 555.05,1062.02 560,1061.7 C564.95,1061.38 570.77,1060.78 574.7,1060 C578.63,1059.22 580.65,1058 583.6,1057 C586.55,1056 589.83,1054.62 592.4,1054 C594.97,1053.38 596.8,1053.17 599,1053.3 C601.2,1053.43 603.27,1053.93 605.6,1054.8 C607.93,1055.67 610.78,1057.47 613,1058.5 C615.22,1059.53 617.3,1060.63 618.9,1061 C620.5,1061.37 621.37,1061.37 622.6,1060.7 C623.83,1060.03 624.95,1058.97 626.3,1057 C627.65,1055.03 629.23,1052.22 630.7,1048.9 C632.17,1045.58 633.63,1042 635.1,1037.1 C636.57,1032.2 637.83,1028.98 639.5,1019.5 C641.17,1010.02 643.33,993.42 645.1,980.2 C646.87,966.98 648.43,952.72 650.1,940.2 C651.77,927.68 653.43,915.95 655.1,905.1 C656.77,894.25 658.43,883.85 660.1,875.1 C661.77,866.35 663.43,858.87 665.1,852.6 C666.77,846.33 668.02,841.88 670.1,837.5 C672.18,833.12 675.08,828.72 677.6,826.3 C680.12,823.88 682.27,823 685.2,823 C688.13,823 691.87,824.92 695.2,826.3 C698.53,827.68 701.87,828.8 705.2,831.3 C708.53,833.8 711.87,838.17 715.2,841.3 C718.53,844.43 721.87,846.55 725.2,850.1 C728.53,853.65 731.73,857.95 735.2,862.6 C738.67,867.25 744.2,875.43 746,878" fill="none" stroke="#000" stroke-width="3.6" stroke-linejoin="round" stroke-linecap="round"/>
</g>
<rect x="446.5" y="789.5" width="296.8" height="296.3" fill="none" stroke="#000" stroke-width="2"/>
<text x="434.1" y="1072.6" font-size="29" fill="#000" font-family="Liberation Sans, sans-serif" font-weight="normal" font-style="normal" text-anchor="end" >0</text>
<text x="434.1" y="990.2" font-size="29" fill="#000" font-family="Liberation Sans, sans-serif" font-weight="normal" font-style="normal" text-anchor="end" >2</text>
<text x="434.1" y="907.8" font-size="29" fill="#000" font-family="Liberation Sans, sans-serif" font-weight="normal" font-style="normal" text-anchor="end" >4</text>
<text x="434.1" y="825.4" font-size="29" fill="#000" font-family="Liberation Sans, sans-serif" font-weight="normal" font-style="normal" text-anchor="end" >6</text>
<text x="478.7" y="1117.3" font-size="28" fill="#000" font-family="Liberation Sans, sans-serif" font-weight="normal" font-style="normal" text-anchor="middle" >0.25</text>
<text x="581.7" y="1117.3" font-size="28" fill="#000" font-family="Liberation Sans, sans-serif" font-weight="normal" font-style="normal" text-anchor="middle" >0.50</text>
<text x="686.2" y="1117.3" font-size="28" fill="#000" font-family="Liberation Sans, sans-serif" font-weight="normal" font-style="normal" text-anchor="middle" >0.75</text>
<text x="595.2" y="1152.3" font-size="28" font-family="Liberation Sans, sans-serif" text-anchor="middle"><tspan font-style="italic">ħω</tspan>/<tspan font-style="italic">ε</tspan><tspan font-size="20" dy="6">gap</tspan></text>
<text x="568.19" y="836" font-size="43.5" fill="#000" font-family="Liberation Sans, sans-serif" font-weight="normal" font-style="normal">C</text>
<text x="598.42" y="845.6" font-size="27.5" fill="#000" font-family="Liberation Sans, sans-serif" font-weight="normal" font-style="normal">2v</text>
<rect x="466.5" y="905.1" width="18" height="17.5" fill="#a51e22"/>
<text x="491.5" y="923.2" font-size="28" fill="#000" font-family="Liberation Sans, sans-serif" font-weight="normal" font-style="normal" text-anchor="start" >TDDFT</text>
<line x1="459.4" y1="946.3" x2="490.2" y2="946.3" stroke="#000" stroke-width="3.6" />
<text x="497.2" y="956" font-size="28" font-family="Liberation Sans, sans-serif">|<tspan font-style="italic">ω χ</tspan><tspan font-size="18" dy="-11" dx="-1">(2)</tspan><tspan dy="11">|</tspan></text>

</svg></body></html>
